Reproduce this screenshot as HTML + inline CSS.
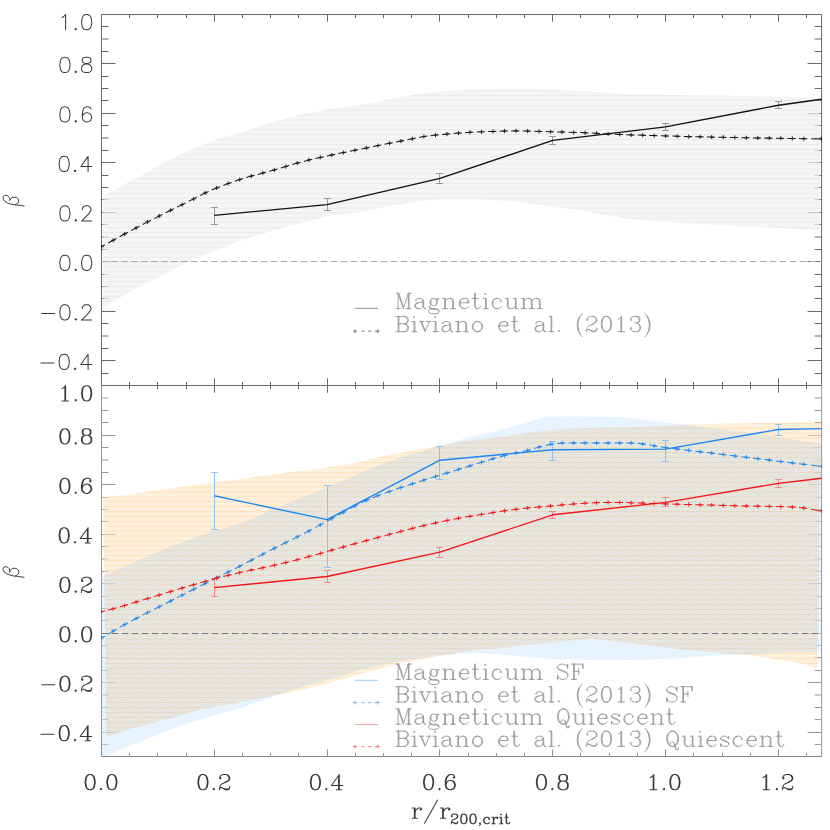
<!DOCTYPE html>
<html><head><meta charset="utf-8"><title>beta profile</title>
<style>html,body{margin:0;padding:0;background:#fff;font-family:"Liberation Sans",sans-serif}svg{display:block}</style></head>
<body>
<svg width="830" height="830" viewBox="0 0 830 830">
<defs>
<pattern id="pg" patternUnits="userSpaceOnUse" x="0" y="0" width="8" height="49" shape-rendering="crispEdges"><rect y="0" width="8" height="1" fill="rgb(241,241,241)"/><rect y="1" width="8" height="1" fill="rgb(239,239,239)"/><rect y="2" width="8" height="1" fill="rgb(229,229,229)"/><rect y="3" width="8" height="1" fill="rgb(241,241,241)"/><rect y="4" width="8" height="1" fill="rgb(241,241,241)"/><rect y="5" width="8" height="1" fill="rgb(241,241,241)"/><rect y="6" width="8" height="1" fill="rgb(238,238,238)"/><rect y="7" width="8" height="1" fill="rgb(231,231,231)"/><rect y="8" width="8" height="1" fill="rgb(241,241,241)"/><rect y="9" width="8" height="1" fill="rgb(241,241,241)"/><rect y="10" width="8" height="1" fill="rgb(241,241,241)"/><rect y="11" width="8" height="1" fill="rgb(236,236,236)"/><rect y="12" width="8" height="1" fill="rgb(232,232,232)"/><rect y="13" width="8" height="1" fill="rgb(241,241,241)"/><rect y="14" width="8" height="1" fill="rgb(241,241,241)"/><rect y="15" width="8" height="1" fill="rgb(241,241,241)"/><rect y="16" width="8" height="1" fill="rgb(234,234,234)"/><rect y="17" width="8" height="1" fill="rgb(234,234,234)"/><rect y="18" width="8" height="1" fill="rgb(241,241,241)"/><rect y="19" width="8" height="1" fill="rgb(241,241,241)"/><rect y="20" width="8" height="1" fill="rgb(241,241,241)"/><rect y="21" width="8" height="1" fill="rgb(233,233,233)"/><rect y="22" width="8" height="1" fill="rgb(236,236,236)"/><rect y="23" width="8" height="1" fill="rgb(241,241,241)"/><rect y="24" width="8" height="1" fill="rgb(241,241,241)"/><rect y="25" width="8" height="1" fill="rgb(241,241,241)"/><rect y="26" width="8" height="1" fill="rgb(231,231,231)"/><rect y="27" width="8" height="1" fill="rgb(238,238,238)"/><rect y="28" width="8" height="1" fill="rgb(241,241,241)"/><rect y="29" width="8" height="1" fill="rgb(241,241,241)"/><rect y="30" width="8" height="1" fill="rgb(241,241,241)"/><rect y="31" width="8" height="1" fill="rgb(229,229,229)"/><rect y="32" width="8" height="1" fill="rgb(239,239,239)"/><rect y="33" width="8" height="1" fill="rgb(241,241,241)"/><rect y="34" width="8" height="1" fill="rgb(241,241,241)"/><rect y="35" width="8" height="1" fill="rgb(241,241,241)"/><rect y="36" width="8" height="1" fill="rgb(227,227,227)"/><rect y="37" width="8" height="1" fill="rgb(241,241,241)"/><rect y="38" width="8" height="1" fill="rgb(241,241,241)"/><rect y="39" width="8" height="1" fill="rgb(241,241,241)"/><rect y="40" width="8" height="1" fill="rgb(241,241,241)"/><rect y="41" width="8" height="1" fill="rgb(227,227,227)"/><rect y="42" width="8" height="1" fill="rgb(241,241,241)"/><rect y="43" width="8" height="1" fill="rgb(241,241,241)"/><rect y="44" width="8" height="1" fill="rgb(241,241,241)"/><rect y="45" width="8" height="1" fill="rgb(241,241,241)"/><rect y="46" width="8" height="1" fill="rgb(227,227,227)"/><rect y="47" width="8" height="1" fill="rgb(241,241,241)"/><rect y="48" width="8" height="1" fill="rgb(241,241,241)"/></pattern>
<pattern id="po" patternUnits="userSpaceOnUse" x="0" y="0" width="8" height="49" shape-rendering="crispEdges"><rect y="0" width="8" height="1" fill="rgb(255,148,10)" fill-opacity="0.140"/><rect y="1" width="8" height="1" fill="rgb(255,148,10)" fill-opacity="0.224"/><rect y="2" width="8" height="1" fill="rgb(255,148,10)" fill-opacity="0.196"/><rect y="3" width="8" height="1" fill="rgb(255,148,10)" fill-opacity="0.140"/><rect y="4" width="8" height="1" fill="rgb(255,148,10)" fill-opacity="0.140"/><rect y="5" width="8" height="1" fill="rgb(255,148,10)" fill-opacity="0.140"/><rect y="6" width="8" height="1" fill="rgb(255,148,10)" fill-opacity="0.241"/><rect y="7" width="8" height="1" fill="rgb(255,148,10)" fill-opacity="0.179"/><rect y="8" width="8" height="1" fill="rgb(255,148,10)" fill-opacity="0.140"/><rect y="9" width="8" height="1" fill="rgb(255,148,10)" fill-opacity="0.140"/><rect y="10" width="8" height="1" fill="rgb(255,148,10)" fill-opacity="0.140"/><rect y="11" width="8" height="1" fill="rgb(255,148,10)" fill-opacity="0.258"/><rect y="12" width="8" height="1" fill="rgb(255,148,10)" fill-opacity="0.162"/><rect y="13" width="8" height="1" fill="rgb(255,148,10)" fill-opacity="0.140"/><rect y="14" width="8" height="1" fill="rgb(255,148,10)" fill-opacity="0.140"/><rect y="15" width="8" height="1" fill="rgb(255,148,10)" fill-opacity="0.140"/><rect y="16" width="8" height="1" fill="rgb(255,148,10)" fill-opacity="0.275"/><rect y="17" width="8" height="1" fill="rgb(255,148,10)" fill-opacity="0.145"/><rect y="18" width="8" height="1" fill="rgb(255,148,10)" fill-opacity="0.140"/><rect y="19" width="8" height="1" fill="rgb(255,148,10)" fill-opacity="0.140"/><rect y="20" width="8" height="1" fill="rgb(255,148,10)" fill-opacity="0.140"/><rect y="21" width="8" height="1" fill="rgb(255,148,10)" fill-opacity="0.280"/><rect y="22" width="8" height="1" fill="rgb(255,148,10)" fill-opacity="0.140"/><rect y="23" width="8" height="1" fill="rgb(255,148,10)" fill-opacity="0.140"/><rect y="24" width="8" height="1" fill="rgb(255,148,10)" fill-opacity="0.140"/><rect y="25" width="8" height="1" fill="rgb(255,148,10)" fill-opacity="0.140"/><rect y="26" width="8" height="1" fill="rgb(255,148,10)" fill-opacity="0.280"/><rect y="27" width="8" height="1" fill="rgb(255,148,10)" fill-opacity="0.140"/><rect y="28" width="8" height="1" fill="rgb(255,148,10)" fill-opacity="0.140"/><rect y="29" width="8" height="1" fill="rgb(255,148,10)" fill-opacity="0.140"/><rect y="30" width="8" height="1" fill="rgb(255,148,10)" fill-opacity="0.156"/><rect y="31" width="8" height="1" fill="rgb(255,148,10)" fill-opacity="0.264"/><rect y="32" width="8" height="1" fill="rgb(255,148,10)" fill-opacity="0.140"/><rect y="33" width="8" height="1" fill="rgb(255,148,10)" fill-opacity="0.140"/><rect y="34" width="8" height="1" fill="rgb(255,148,10)" fill-opacity="0.140"/><rect y="35" width="8" height="1" fill="rgb(255,148,10)" fill-opacity="0.173"/><rect y="36" width="8" height="1" fill="rgb(255,148,10)" fill-opacity="0.247"/><rect y="37" width="8" height="1" fill="rgb(255,148,10)" fill-opacity="0.140"/><rect y="38" width="8" height="1" fill="rgb(255,148,10)" fill-opacity="0.140"/><rect y="39" width="8" height="1" fill="rgb(255,148,10)" fill-opacity="0.140"/><rect y="40" width="8" height="1" fill="rgb(255,148,10)" fill-opacity="0.190"/><rect y="41" width="8" height="1" fill="rgb(255,148,10)" fill-opacity="0.230"/><rect y="42" width="8" height="1" fill="rgb(255,148,10)" fill-opacity="0.140"/><rect y="43" width="8" height="1" fill="rgb(255,148,10)" fill-opacity="0.140"/><rect y="44" width="8" height="1" fill="rgb(255,148,10)" fill-opacity="0.140"/><rect y="45" width="8" height="1" fill="rgb(255,148,10)" fill-opacity="0.207"/><rect y="46" width="8" height="1" fill="rgb(255,148,10)" fill-opacity="0.213"/><rect y="47" width="8" height="1" fill="rgb(255,148,10)" fill-opacity="0.140"/><rect y="48" width="8" height="1" fill="rgb(255,148,10)" fill-opacity="0.140"/></pattern>
<clipPath id="ct"><rect x="102" y="15" width="719" height="370"/></clipPath>
<clipPath id="cb"><rect x="102" y="386" width="719.5" height="371.5"/></clipPath>
</defs>
<rect width="830" height="830" fill="#fff"/>
<path d="M101.5 26.5h7M821.6 26.5h-7M101.5 39h7M821.6 39h-7M101.5 51.5h7M821.6 51.5h-7M101.5 63.5h14M821.6 63.5h-14M101.5 76.5h7M821.6 76.5h-7M101.5 88.5h7M821.6 88.5h-7M101.5 100.5h7M821.6 100.5h-7M101.5 113.5h14M821.6 113.5h-14M101.5 125.5h7M821.6 125.5h-7M101.5 138h7M821.6 138h-7M101.5 150.5h7M821.6 150.5h-7M101.5 162.5h14M821.6 162.5h-14M101.5 175.5h7M821.6 175.5h-7M101.5 187.5h7M821.6 187.5h-7M101.5 199.5h7M821.6 199.5h-7M101.5 212.5h14M821.6 212.5h-14M101.5 224.5h7M821.6 224.5h-7M101.5 237h7M821.6 237h-7M101.5 249.5h7M821.6 249.5h-7M101.5 261.5h14M821.6 261.5h-14M101.5 274.5h7M821.6 274.5h-7M101.5 286.5h7M821.6 286.5h-7M101.5 298.5h7M821.6 298.5h-7M101.5 311.5h14M821.6 311.5h-14M101.5 323.5h7M821.6 323.5h-7M101.5 336h7M821.6 336h-7M101.5 348.5h7M821.6 348.5h-7M101.5 360.5h14M821.6 360.5h-14M101.5 373.5h7M821.6 373.5h-7" stroke="#686868" stroke-width="1" fill="none"/>
<path d="M101.5 398h7M821.6 398h-7M101.5 410.5h7M821.6 410.5h-7M101.5 422.5h7M821.6 422.5h-7M101.5 435.5h14M821.6 435.5h-14M101.5 447.5h7M821.6 447.5h-7M101.5 460h7M821.6 460h-7M101.5 472.5h7M821.6 472.5h-7M101.5 484.5h14M821.6 484.5h-14M101.5 497.5h7M821.6 497.5h-7M101.5 509.5h7M821.6 509.5h-7M101.5 521.5h7M821.6 521.5h-7M101.5 534.5h14M821.6 534.5h-14M101.5 546.5h7M821.6 546.5h-7M101.5 559h7M821.6 559h-7M101.5 571.5h7M821.6 571.5h-7M101.5 583.5h14M821.6 583.5h-14M101.5 596.5h7M821.6 596.5h-7M101.5 608.5h7M821.6 608.5h-7M101.5 620.5h7M821.6 620.5h-7M101.5 633.5h14M821.6 633.5h-14M101.5 645.5h7M821.6 645.5h-7M101.5 657.5h7M821.6 657.5h-7M101.5 670.5h7M821.6 670.5h-7M101.5 682.5h14M821.6 682.5h-14M101.5 695h7M821.6 695h-7M101.5 707.5h7M821.6 707.5h-7M101.5 719.5h7M821.6 719.5h-7M101.5 732.5h14M821.6 732.5h-14M101.5 744.5h7M821.6 744.5h-7" stroke="#999" stroke-width="1" fill="none"/>
<polygon points="103,196.1 103.4,196.1 107.4,193.9 111.4,191.8 115.4,189.6 119.4,187.4 123.4,185.2 127.4,183 131.4,180.8 135.4,178.7 139.4,176.4 143.4,174.2 147.4,172 151.4,169.7 155.4,167.5 159.4,165.3 163.4,163.1 167.4,161 171.4,159 175.4,156.9 179.4,154.9 183.4,153 187.4,151.2 191.4,149.5 195.5,147.8 199.5,146.2 203.5,144.6 207.5,143 211.5,141.4 215.5,140 219.5,138.6 223.5,137.4 227.5,136.4 231.5,135.3 235.5,134.2 239.5,133.1 243.5,131.8 247.5,130.4 251.5,129 255.5,127.6 259.5,126.2 263.5,125 267.5,123.8 271.5,122.6 275.5,121.4 279.5,120.2 283.5,119.1 287.5,118.1 291.5,117 295.5,116.1 299.5,115.1 303.5,114.2 307.5,113.4 311.5,112.5 315.5,111.7 319.5,111 323.5,110.2 327.5,109.5 331.5,108.8 335.5,108.2 339.5,107.7 343.5,107.2 347.5,106.7 351.5,106.1 355.5,105.6 359.5,105 363.5,104.3 367.5,103.5 371.5,102.7 375.6,101.9 379.6,101 383.6,100.2 387.6,99.3 391.6,98.6 395.6,97.9 399.6,97.2 403.6,96.5 407.6,95.9 411.6,95.2 415.6,94.6 419.6,94.1 423.6,93.5 427.6,93.1 431.6,92.7 435.6,92.3 439.6,91.9 443.6,91.5 447.6,91.2 451.6,90.9 455.6,90.6 459.6,90.4 463.6,90.2 467.6,90 471.6,89.8 475.6,89.7 479.6,89.5 483.6,89.4 487.6,89.3 491.6,89.2 495.6,89 499.6,88.9 503.6,88.8 507.6,88.7 511.6,88.6 515.6,88.6 519.6,88.6 523.6,88.7 527.6,88.9 531.6,89 535.6,89.2 539.6,89.4 543.6,89.5 547.6,89.7 551.7,89.8 555.7,90 559.7,90.2 563.7,90.4 567.7,90.6 571.7,90.8 575.7,91 579.7,91.2 583.7,91.4 587.7,91.6 591.7,91.8 595.7,92.1 599.7,92.3 603.7,92.5 607.7,92.8 611.7,93.1 615.7,93.4 619.7,93.7 623.7,94 627.7,94.2 631.7,94.3 635.7,94.4 639.7,94.5 643.7,94.6 647.7,94.7 651.7,94.7 655.7,94.8 659.7,94.8 663.7,94.9 667.7,94.9 671.7,95 675.7,95 679.7,95.1 683.7,95.1 687.7,95.2 691.7,95.2 695.7,95.3 699.7,95.3 703.7,95.4 707.7,95.4 711.7,95.5 715.7,95.5 719.7,95.6 723.7,95.6 727.7,95.7 731.8,95.8 735.8,95.8 739.8,95.9 743.8,96 747.8,96 751.8,96.1 755.8,96.2 759.8,96.3 763.8,96.4 767.8,96.5 771.8,96.6 775.8,96.8 779.8,96.9 783.8,97 787.8,97.1 791.8,97.2 795.8,97.3 799.8,97.5 803.8,97.6 807.8,97.7 811.8,97.8 815.8,98 819.8,98.1 819.9,230.2 815.9,230 811.9,229.8 807.9,229.6 803.9,229.4 799.9,229.1 795.9,228.9 791.9,228.7 787.9,228.5 783.9,228.3 779.9,228.1 775.9,227.9 771.9,227.7 767.9,227.5 763.9,227.3 759.9,227.1 755.9,226.9 751.9,226.7 747.8,226.5 743.8,226.4 739.8,226.2 735.8,226 731.8,225.8 727.8,225.6 723.8,225.3 719.8,225.1 715.8,224.9 711.8,224.6 707.8,224.4 703.8,224.1 699.8,223.9 695.8,223.6 691.8,223.3 687.8,223.1 683.8,222.8 679.8,222.5 675.8,222.3 671.8,222 667.8,221.7 663.8,221.5 659.8,221.2 655.8,221 651.8,220.8 647.8,220.5 643.8,220.3 639.8,220 635.8,219.6 631.8,219.3 627.8,218.8 623.8,218.3 619.8,217.6 615.8,216.8 611.8,216.1 607.8,215.4 603.7,214.7 599.7,214 595.7,213.2 591.7,212.5 587.7,211.8 583.7,211.1 579.7,210.4 575.7,209.7 571.7,209.1 567.7,208.5 563.7,207.9 559.7,207.3 555.7,206.7 551.7,206.2 547.7,205.6 543.7,205.1 539.7,204.5 535.7,204 531.7,203.5 527.7,203 523.7,202.6 519.7,202.2 515.7,201.8 511.7,201.5 507.7,201.2 503.7,200.9 499.7,200.6 495.7,200.3 491.7,200 487.7,199.7 483.7,199.4 479.7,199.2 475.7,199.2 471.7,199.1 467.7,199 463.7,199 459.6,198.9 455.6,198.9 451.6,198.9 447.6,199 443.6,199.1 439.6,199.4 435.6,199.7 431.6,200 427.6,200.3 423.6,200.7 419.6,201.1 415.6,201.7 411.6,202.3 407.6,202.9 403.6,203.6 399.6,204.3 395.6,205 391.6,205.7 387.6,206.4 383.6,207.3 379.6,208.1 375.6,209 371.6,209.9 367.6,210.7 363.6,211.5 359.6,212.2 355.6,212.7 351.6,213.3 347.6,213.7 343.6,214.2 339.6,214.7 335.6,215.2 331.6,215.8 327.6,216.6 323.6,217.4 319.6,218.3 315.5,219.3 311.5,220.3 307.5,221.4 303.5,222.4 299.5,223.5 295.5,224.5 291.5,225.5 287.5,226.6 283.5,227.6 279.5,228.7 275.5,229.8 271.5,230.9 267.5,232.1 263.5,233.3 259.5,234.5 255.5,235.8 251.5,237.1 247.5,238.5 243.5,239.9 239.5,241.3 235.5,242.8 231.5,244.3 227.5,245.8 223.5,247.4 219.5,249 215.5,250.6 211.5,252.2 207.5,253.7 203.5,255.4 199.5,257 195.5,258.7 191.5,260.5 187.5,262.3 183.5,264.2 179.5,266.2 175.5,268.2 171.4,270.3 167.4,272.3 163.4,274.4 159.4,276.4 155.4,278.5 151.4,280.6 147.4,282.7 143.4,284.8 139.4,286.9 135.4,289.1 131.4,291.2 127.4,293.4 123.4,295.6 119.4,297.8 115.4,300.1 111.4,302.3 107.4,304.6 103.4,306.9 103,306.9" fill="url(#pg)" fill-opacity="0.72" clip-path="url(#ct)"/>
<defs><polygon id="op" points="103.2,497.3 103.4,497.3 107.4,496.8 111.4,496.4 115.4,495.9 119.4,495.4 123.4,494.9 127.4,494.4 131.4,493.9 135.4,493.4 139.4,492.8 143.4,492.3 147.4,491.7 151.4,491.2 155.4,490.6 159.4,490 163.4,489.5 167.4,488.9 171.4,488.3 175.5,487.8 179.5,487.2 183.5,486.7 187.5,486.1 191.5,485.5 195.5,485 199.5,484.4 203.5,483.9 207.5,483.4 211.5,482.8 215.5,482.3 219.5,481.8 223.5,481.3 227.5,480.8 231.5,480.3 235.5,479.7 239.5,479.2 243.5,478.6 247.5,478 251.5,477.4 255.5,476.8 259.5,476.2 263.5,475.6 267.5,475 271.5,474.4 275.5,473.8 279.5,473.3 283.5,472.8 287.5,472.3 291.5,471.8 295.5,471.3 299.5,470.9 303.5,470.4 307.5,469.9 311.5,469.5 315.5,469 319.6,468.5 323.6,467.9 327.6,467.4 331.6,466.8 335.6,466.2 339.6,465.6 343.6,464.8 347.6,464.1 351.6,463.3 355.6,462.5 359.6,461.7 363.6,460.8 367.6,459.9 371.6,459 375.6,458.1 379.6,457.1 383.6,456.2 387.6,455.3 391.6,454.4 395.6,453.6 399.6,452.9 403.6,452.2 407.6,451.5 411.6,450.8 415.6,450.1 419.6,449.4 423.6,448.8 427.6,448.1 431.6,447.4 435.6,446.7 439.6,446 443.6,445.2 447.6,444.4 451.6,443.6 455.6,442.8 459.6,442 463.7,441.4 467.7,440.9 471.7,440.4 475.7,439.9 479.7,439.5 483.7,439 487.7,438.6 491.7,438.1 495.7,437.7 499.7,437.1 503.7,436.6 507.7,436 511.7,435.3 515.7,434.7 519.7,434.1 523.7,433.5 527.7,433 531.7,432.4 535.7,431.9 539.7,431.4 543.7,430.9 547.7,430.5 551.7,430.1 555.7,429.7 559.7,429.4 563.7,429.2 567.7,428.9 571.7,428.7 575.7,428.5 579.7,428.3 583.7,428.1 587.7,428 591.7,427.9 595.7,427.8 599.7,427.7 603.7,427.7 607.8,427.6 611.8,427.6 615.8,427.5 619.8,427.5 623.8,427.4 627.8,427.4 631.8,427.3 635.8,427.1 639.8,426.9 643.8,426.7 647.8,426.5 651.8,426.2 655.8,425.9 659.8,425.7 663.8,425.5 667.8,425.3 671.8,425.1 675.8,424.9 679.8,424.7 683.8,424.6 687.8,424.4 691.8,424.3 695.8,424.2 699.8,424.1 703.8,424 707.8,423.9 711.8,423.9 715.8,423.8 719.8,423.7 723.8,423.7 727.8,423.6 731.8,423.5 735.8,423.4 739.8,423.4 743.8,423.3 747.8,423.2 751.9,423.2 755.9,423.1 759.9,423.1 763.9,423 767.9,423 771.9,422.9 775.9,422.8 779.9,422.8 783.9,422.8 787.9,422.7 791.9,422.7 795.9,422.6 799.9,422.6 803.9,422.5 807.9,422.5 811.9,422.5 815.9,422.4 819.9,422.4 821,422.3 817.6,668.3 817.4,668.3 813.4,667 809.4,665.9 805.4,664.7 801.3,663.7 797.3,662.8 793.3,662.1 789.3,661.3 785.3,660.7 781.3,660.1 777.2,659.5 773.2,658.9 769.2,658.3 765.2,657.7 761.2,657.2 757.2,656.6 753.2,656 749.1,655.5 745.1,655 741.1,654.6 737.1,654.2 733.1,653.9 729.1,653.7 725,653.4 721,653.1 717,652.7 713,652.3 709,651.9 705,651.5 701,651.1 696.9,650.7 692.9,650.3 688.9,649.9 684.9,649.5 680.9,649.2 676.9,648.8 672.9,648.3 668.8,647.9 664.8,647.4 660.8,646.9 656.8,646.4 652.8,645.9 648.8,645.4 644.7,644.9 640.7,644.5 636.7,644 632.7,643.5 628.7,643 624.7,642.5 620.7,642 616.6,641.5 612.6,641 608.6,640.6 604.6,640.1 600.6,639.5 596.6,639.2 592.5,639.1 588.5,639.3 584.5,639.5 580.5,639.7 576.5,640.1 572.5,640.5 568.5,641 564.4,641.4 560.4,641.9 556.4,642.3 552.4,642.7 548.4,643 544.4,643.3 540.3,643.7 536.3,644 532.3,644.4 528.3,644.7 524.3,645.1 520.3,645.6 516.3,646.2 512.2,646.8 508.2,647.3 504.2,647.9 500.2,648.3 496.2,648.6 492.2,648.8 488.1,649 484.1,649.2 480.1,649.5 476.1,649.9 472.1,650.4 468.1,651.1 464.1,651.8 460,652.5 456,653.2 452,654 448,654.7 444,655.4 440,656.1 436,656.8 431.9,657.4 427.9,658.1 423.9,658.9 419.9,659.6 415.9,660.3 411.9,661.1 407.8,661.9 403.8,662.7 399.8,663.5 395.8,664.4 391.8,665.4 387.8,666.4 383.8,667.4 379.7,668.5 375.7,669.7 371.7,670.8 367.7,672 363.7,673.2 359.7,674.3 355.6,675.4 351.6,676.6 347.6,677.7 343.6,678.9 339.6,680 335.6,681.1 331.6,682.2 327.5,683.3 323.5,684.3 319.5,685.4 315.5,686.4 311.5,687.4 307.5,688.4 303.4,689.3 299.4,690.3 295.4,691.2 291.4,692 287.4,692.9 283.4,693.7 279.4,694.5 275.3,695.3 271.3,696 267.3,696.8 263.3,697.6 259.3,698.4 255.3,699.1 251.2,699.9 247.2,700.7 243.2,701.5 239.2,702.3 235.2,703 231.2,703.8 227.2,704.5 223.1,705.3 219.1,706 215.1,706.8 211.1,707.6 207.1,708.4 203.1,709.3 199.1,710.2 195,711.2 191,712.3 187,713.4 183,714.6 179,715.7 175,716.9 170.9,718 166.9,719.2 162.9,720.2 158.9,721.3 154.9,722.4 150.9,723.4 146.9,724.5 142.8,725.6 138.8,726.7 134.8,727.9 130.8,729.1 126.8,730.3 122.8,731.5 118.7,732.8 114.7,734.1 110.7,735.4 106.7,736.7 106.3,736.7"/><polygon id="bp" points="102,575.9 103.4,575.9 107.4,574.1 111.4,572.3 115.4,570.5 119.4,568.7 123.4,566.9 127.4,565.1 131.4,563.4 135.4,561.7 139.4,559.9 143.4,558.2 147.4,556.5 151.4,554.7 155.4,553.1 159.4,551.4 163.4,549.7 167.4,548.1 171.4,546.5 175.5,545 179.5,543.4 183.5,541.9 187.5,540.3 191.5,538.9 195.5,537.4 199.5,536 203.5,534.6 207.5,533.3 211.5,532 215.5,530.8 219.5,529.5 223.5,528.4 227.5,527.2 231.5,526 235.5,524.8 239.5,523.5 243.5,522 247.5,520.4 251.5,518.7 255.5,516.9 259.5,515.2 263.5,513.5 267.5,511.8 271.5,510.1 275.5,508.4 279.5,506.7 283.5,505 287.5,503.3 291.5,501.6 295.5,499.9 299.5,498.3 303.5,496.7 307.5,495.2 311.5,493.6 315.5,492 319.6,490.4 323.6,488.8 327.6,487.2 331.6,485.5 335.6,483.8 339.6,482.1 343.6,480.3 347.6,478.6 351.6,476.8 355.6,475 359.6,473.3 363.6,471.6 367.6,470 371.6,468.3 375.6,466.7 379.6,465.1 383.6,463.6 387.6,462.1 391.6,460.6 395.6,459.3 399.6,458 403.6,456.7 407.6,455.5 411.6,454.3 415.6,453.2 419.6,452 423.6,450.9 427.6,449.7 431.6,448.4 435.6,447.2 439.6,446 443.6,444.8 447.6,443.6 451.6,442.4 455.6,441.2 459.6,440 463.7,438.9 467.7,437.8 471.7,436.7 475.7,435.7 479.7,434.7 483.7,433.8 487.7,432.9 491.7,432 495.7,431 499.7,430.1 503.7,429 507.7,427.9 511.7,426.8 515.7,425.6 519.7,424.5 523.7,423.4 527.7,422.3 531.7,421 535.7,419.8 539.7,418.6 543.7,417.6 547.7,416.9 551.7,416.6 555.7,416.6 559.7,416.6 563.7,416.6 567.7,416.6 571.7,416.6 575.7,416.6 579.7,416.6 583.7,416.6 587.7,416.7 591.7,416.7 595.7,416.8 599.7,416.9 603.7,416.9 607.8,417 611.8,417.1 615.8,417.1 619.8,417.2 623.8,417.3 627.8,417.5 631.8,417.7 635.8,418.3 639.8,419 643.8,419.7 647.8,420.2 651.8,420.8 655.8,421.2 659.8,421.7 663.8,422.2 667.8,422.7 671.8,423.1 675.8,423.5 679.8,424 683.8,424.4 687.8,424.8 691.8,425.3 695.8,425.8 699.8,426.3 703.8,426.9 707.8,427.4 711.8,427.9 715.8,428.5 719.8,429 723.8,429.6 727.8,430.1 731.8,430.6 735.8,431.2 739.8,431.8 743.8,432.3 747.8,432.9 751.9,433.4 755.9,434 759.9,434.6 763.9,435.1 767.9,435.7 771.9,436.3 775.9,436.9 779.9,437.5 783.9,438.1 787.9,438.7 791.9,439.3 795.9,439.9 799.9,440.5 803.9,441.1 807.9,441.7 811.9,442.3 815.9,443 819.9,443.6 821,443.6 821,651.8 821,651.8 817,651.9 813,652 808.9,652.1 804.9,652.2 800.9,652.3 796.9,652.4 792.9,652.5 788.9,652.6 784.8,652.7 780.8,652.8 776.8,652.9 772.8,653.1 768.8,653.2 764.8,653.3 760.7,653.5 756.7,653.7 752.7,653.8 748.7,654 744.7,654.2 740.7,654.3 736.6,654.5 732.6,654.7 728.6,654.8 724.6,655 720.6,655.2 716.6,655.5 712.5,655.7 708.5,656 704.5,656.3 700.5,656.6 696.5,656.9 692.5,657.2 688.4,657.5 684.4,657.8 680.4,658.1 676.4,658.4 672.4,658.6 668.4,658.8 664.3,659 660.3,659.1 656.3,659.3 652.3,659.4 648.3,659.6 644.3,659.7 640.2,659.8 636.2,659.9 632.2,659.9 628.2,659.9 624.2,659.9 620.2,659.9 616.1,659.9 612.1,659.9 608.1,659.9 604.1,659.9 600.1,659.9 596.1,659.9 592,659.9 588,659.9 584,659.9 580,659.8 576,659.8 572,659.7 567.9,659.6 563.9,659.6 559.9,659.5 555.9,659.4 551.9,659.2 547.9,658.9 543.8,658.5 539.8,658.1 535.8,657.7 531.8,657.3 527.8,656.9 523.8,656.5 519.7,656.1 515.7,655.7 511.7,655.3 507.7,654.9 503.7,654.5 499.7,654.3 495.6,654.1 491.6,653.9 487.6,653.8 483.6,653.7 479.6,653.6 475.6,653.6 471.5,653.6 467.5,653.6 463.5,653.6 459.5,653.6 455.5,653.9 451.5,654.4 447.4,654.8 443.4,655.2 439.4,655.6 435.4,656.1 431.4,656.5 427.4,657 423.3,657.5 419.3,658.1 415.3,658.7 411.3,659.3 407.3,660 403.3,660.7 399.2,661.4 395.2,662.1 391.2,662.9 387.2,663.7 383.2,664.5 379.2,665.4 375.1,666.3 371.1,667.2 367.1,668.2 363.1,669.2 359.1,670.2 355.1,671.4 351,672.6 347,673.9 343,675.2 339,676.5 335,677.8 331,679 326.9,680.1 322.9,681.2 318.9,682.3 314.9,683.4 310.9,684.4 306.9,685.5 302.8,686.6 298.8,687.8 294.8,689 290.8,690.3 286.8,691.6 282.8,693 278.7,694.4 274.7,695.8 270.7,697.3 266.7,698.9 262.7,700.4 258.7,701.8 254.6,703.2 250.6,704.5 246.6,705.9 242.6,707.2 238.6,708.4 234.6,709.7 230.5,710.8 226.5,712 222.5,713.1 218.5,714.2 214.5,715.4 210.5,716.5 206.4,717.7 202.4,718.9 198.4,720.2 194.4,721.5 190.4,722.8 186.4,724.1 182.3,725.5 178.3,726.9 174.3,728.3 170.3,729.8 166.3,731.3 162.3,732.8 158.2,734.3 154.2,735.9 150.2,737.5 146.2,739.1 142.2,740.8 138.2,742.4 134.1,744.1 130.1,745.8 126.1,747.6 122.1,749.3 118.1,751.1 114.1,752.9 110,754.7 106,756.5 102,758.2 102,758.2"/><clipPath id="cblue"><use href="#bp"/></clipPath></defs>
<g clip-path="url(#cb)">
<use href="#op" fill="#fff" fill-opacity="0.45"/><use href="#bp" fill="#fff" fill-opacity="0.45"/>
<use href="#op" fill="url(#po)"/>
<use href="#bp" fill="#fff" fill-opacity="0.05"/>
<path clip-path="url(#cblue)" d="M102.7 410l-348 348M105.05 410l-348 348M107.4 410l-348 348M109.75 410l-348 348M112.1 410l-348 348M114.45 410l-348 348M116.79 410l-348 348M119.14 410l-348 348M121.49 410l-348 348M123.84 410l-348 348M126.19 410l-348 348M128.54 410l-348 348M130.89 410l-348 348M133.24 410l-348 348M135.59 410l-348 348M137.94 410l-348 348M140.28 410l-348 348M142.63 410l-348 348M144.98 410l-348 348M147.33 410l-348 348M149.68 410l-348 348M152.03 410l-348 348M154.38 410l-348 348M156.73 410l-348 348M159.08 410l-348 348M161.43 410l-348 348M163.77 410l-348 348M166.12 410l-348 348M168.47 410l-348 348M170.82 410l-348 348M173.17 410l-348 348M175.52 410l-348 348M177.87 410l-348 348M180.22 410l-348 348M182.57 410l-348 348M184.92 410l-348 348M187.27 410l-348 348M189.61 410l-348 348M191.96 410l-348 348M194.31 410l-348 348M196.66 410l-348 348M199.01 410l-348 348M201.36 410l-348 348M203.71 410l-348 348M206.06 410l-348 348M208.41 410l-348 348M210.76 410l-348 348M213.1 410l-348 348M215.45 410l-348 348M217.8 410l-348 348M220.15 410l-348 348M222.5 410l-348 348M224.85 410l-348 348M227.2 410l-348 348M229.55 410l-348 348M231.9 410l-348 348M234.25 410l-348 348M236.59 410l-348 348M238.94 410l-348 348M241.29 410l-348 348M243.64 410l-348 348M245.99 410l-348 348M248.34 410l-348 348M250.69 410l-348 348M253.04 410l-348 348M255.39 410l-348 348M257.74 410l-348 348M260.09 410l-348 348M262.43 410l-348 348M264.78 410l-348 348M267.13 410l-348 348M269.48 410l-348 348M271.83 410l-348 348M274.18 410l-348 348M276.53 410l-348 348M278.88 410l-348 348M281.23 410l-348 348M283.58 410l-348 348M285.92 410l-348 348M288.27 410l-348 348M290.62 410l-348 348M292.97 410l-348 348M295.32 410l-348 348M297.67 410l-348 348M300.02 410l-348 348M302.37 410l-348 348M304.72 410l-348 348M307.07 410l-348 348M309.41 410l-348 348M311.76 410l-348 348M314.11 410l-348 348M316.46 410l-348 348M318.81 410l-348 348M321.16 410l-348 348M323.51 410l-348 348M325.86 410l-348 348M328.21 410l-348 348M330.56 410l-348 348M332.91 410l-348 348M335.25 410l-348 348M337.6 410l-348 348M339.95 410l-348 348M342.3 410l-348 348M344.65 410l-348 348M347 410l-348 348M349.35 410l-348 348M351.7 410l-348 348M354.05 410l-348 348M356.4 410l-348 348M358.74 410l-348 348M361.09 410l-348 348M363.44 410l-348 348M365.79 410l-348 348M368.14 410l-348 348M370.49 410l-348 348M372.84 410l-348 348M375.19 410l-348 348M377.54 410l-348 348M379.89 410l-348 348M382.23 410l-348 348M384.58 410l-348 348M386.93 410l-348 348M389.28 410l-348 348M391.63 410l-348 348M393.98 410l-348 348M396.33 410l-348 348M398.68 410l-348 348M401.03 410l-348 348M403.38 410l-348 348M405.73 410l-348 348M408.07 410l-348 348M410.42 410l-348 348M412.77 410l-348 348M415.12 410l-348 348M417.47 410l-348 348M419.82 410l-348 348M422.17 410l-348 348M424.52 410l-348 348M426.87 410l-348 348M429.22 410l-348 348M431.56 410l-348 348M433.91 410l-348 348M436.26 410l-348 348M438.61 410l-348 348M440.96 410l-348 348M443.31 410l-348 348M445.66 410l-348 348M448.01 410l-348 348M450.36 410l-348 348M452.71 410l-348 348M455.05 410l-348 348M457.4 410l-348 348M459.75 410l-348 348M462.1 410l-348 348M464.45 410l-348 348M466.8 410l-348 348M469.15 410l-348 348M471.5 410l-348 348M473.85 410l-348 348M476.2 410l-348 348M478.55 410l-348 348M480.89 410l-348 348M483.24 410l-348 348M485.59 410l-348 348M487.94 410l-348 348M490.29 410l-348 348M492.64 410l-348 348M494.99 410l-348 348M497.34 410l-348 348M499.69 410l-348 348M502.04 410l-348 348M504.38 410l-348 348M506.73 410l-348 348M509.08 410l-348 348M511.43 410l-348 348M513.78 410l-348 348M516.13 410l-348 348M518.48 410l-348 348M520.83 410l-348 348M523.18 410l-348 348M525.53 410l-348 348M527.87 410l-348 348M530.22 410l-348 348M532.57 410l-348 348M534.92 410l-348 348M537.27 410l-348 348M539.62 410l-348 348M541.97 410l-348 348M544.32 410l-348 348M546.67 410l-348 348M549.02 410l-348 348M551.37 410l-348 348M553.71 410l-348 348M556.06 410l-348 348M558.41 410l-348 348M560.76 410l-348 348M563.11 410l-348 348M565.46 410l-348 348M567.81 410l-348 348M570.16 410l-348 348M572.51 410l-348 348M574.86 410l-348 348M577.2 410l-348 348M579.55 410l-348 348M581.9 410l-348 348M584.25 410l-348 348M586.6 410l-348 348M588.95 410l-348 348M591.3 410l-348 348M593.65 410l-348 348M596 410l-348 348M598.35 410l-348 348M600.69 410l-348 348M603.04 410l-348 348M605.39 410l-348 348M607.74 410l-348 348M610.09 410l-348 348M612.44 410l-348 348M614.79 410l-348 348M617.14 410l-348 348M619.49 410l-348 348M621.84 410l-348 348M624.19 410l-348 348M626.53 410l-348 348M628.88 410l-348 348M631.23 410l-348 348M633.58 410l-348 348M635.93 410l-348 348M638.28 410l-348 348M640.63 410l-348 348M642.98 410l-348 348M645.33 410l-348 348M647.68 410l-348 348M650.02 410l-348 348M652.37 410l-348 348M654.72 410l-348 348M657.07 410l-348 348M659.42 410l-348 348M661.77 410l-348 348M664.12 410l-348 348M666.47 410l-348 348M668.82 410l-348 348M671.17 410l-348 348M673.51 410l-348 348M675.86 410l-348 348M678.21 410l-348 348M680.56 410l-348 348M682.91 410l-348 348M685.26 410l-348 348M687.61 410l-348 348M689.96 410l-348 348M692.31 410l-348 348M694.66 410l-348 348M697.01 410l-348 348M699.35 410l-348 348M701.7 410l-348 348M704.05 410l-348 348M706.4 410l-348 348M708.75 410l-348 348M711.1 410l-348 348M713.45 410l-348 348M715.8 410l-348 348M718.15 410l-348 348M720.5 410l-348 348M722.84 410l-348 348M725.19 410l-348 348M727.54 410l-348 348M729.89 410l-348 348M732.24 410l-348 348M734.59 410l-348 348M736.94 410l-348 348M739.29 410l-348 348M741.64 410l-348 348M743.99 410l-348 348M746.33 410l-348 348M748.68 410l-348 348M751.03 410l-348 348M753.38 410l-348 348M755.73 410l-348 348M758.08 410l-348 348M760.43 410l-348 348M762.78 410l-348 348M765.13 410l-348 348M767.48 410l-348 348M769.83 410l-348 348M772.17 410l-348 348M774.52 410l-348 348M776.87 410l-348 348M779.22 410l-348 348M781.57 410l-348 348M783.92 410l-348 348M786.27 410l-348 348M788.62 410l-348 348M790.97 410l-348 348M793.32 410l-348 348M795.66 410l-348 348M798.01 410l-348 348M800.36 410l-348 348M802.71 410l-348 348M805.06 410l-348 348M807.41 410l-348 348M809.76 410l-348 348M812.11 410l-348 348M814.46 410l-348 348M816.81 410l-348 348M819.15 410l-348 348M821.5 410l-348 348M823.85 410l-348 348M826.2 410l-348 348M828.55 410l-348 348M830.9 410l-348 348M833.25 410l-348 348M835.6 410l-348 348M837.95 410l-348 348M840.3 410l-348 348M842.65 410l-348 348M844.99 410l-348 348M847.34 410l-348 348M849.69 410l-348 348M852.04 410l-348 348M854.39 410l-348 348M856.74 410l-348 348M859.09 410l-348 348M861.44 410l-348 348M863.79 410l-348 348M866.14 410l-348 348M868.48 410l-348 348M870.83 410l-348 348M873.18 410l-348 348M875.53 410l-348 348M877.88 410l-348 348M880.23 410l-348 348M882.58 410l-348 348M884.93 410l-348 348M887.28 410l-348 348M889.63 410l-348 348M891.97 410l-348 348M894.32 410l-348 348M896.67 410l-348 348M899.02 410l-348 348M901.37 410l-348 348M903.72 410l-348 348M906.07 410l-348 348M908.42 410l-348 348M910.77 410l-348 348M913.12 410l-348 348M915.47 410l-348 348M917.81 410l-348 348M920.16 410l-348 348M922.51 410l-348 348M924.86 410l-348 348M927.21 410l-348 348M929.56 410l-348 348M931.91 410l-348 348M934.26 410l-348 348M936.61 410l-348 348M938.96 410l-348 348M941.3 410l-348 348M943.65 410l-348 348M946 410l-348 348M948.35 410l-348 348M950.7 410l-348 348M953.05 410l-348 348M955.4 410l-348 348M957.75 410l-348 348M960.1 410l-348 348M962.45 410l-348 348M964.79 410l-348 348M967.14 410l-348 348M969.49 410l-348 348M971.84 410l-348 348M974.19 410l-348 348M976.54 410l-348 348M978.89 410l-348 348M981.24 410l-348 348M983.59 410l-348 348M985.94 410l-348 348M988.29 410l-348 348M990.63 410l-348 348M992.98 410l-348 348M995.33 410l-348 348M997.68 410l-348 348M1000.03 410l-348 348M1002.38 410l-348 348M1004.73 410l-348 348M1007.08 410l-348 348M1009.43 410l-348 348M1011.78 410l-348 348M1014.12 410l-348 348M1016.47 410l-348 348M1018.82 410l-348 348M1021.17 410l-348 348M1023.52 410l-348 348M1025.87 410l-348 348M1028.22 410l-348 348M1030.57 410l-348 348M1032.92 410l-348 348M1035.27 410l-348 348M1037.62 410l-348 348M1039.96 410l-348 348M1042.31 410l-348 348M1044.66 410l-348 348M1047.01 410l-348 348M1049.36 410l-348 348M1051.71 410l-348 348M1054.06 410l-348 348M1056.41 410l-348 348M1058.76 410l-348 348M1061.11 410l-348 348M1063.45 410l-348 348M1065.8 410l-348 348M1068.15 410l-348 348M1070.5 410l-348 348M1072.85 410l-348 348M1075.2 410l-348 348M1077.55 410l-348 348M1079.9 410l-348 348M1082.25 410l-348 348M1084.6 410l-348 348M1086.94 410l-348 348M1089.29 410l-348 348M1091.64 410l-348 348M1093.99 410l-348 348M1096.34 410l-348 348M1098.69 410l-348 348M1101.04 410l-348 348M1103.39 410l-348 348M1105.74 410l-348 348M1108.09 410l-348 348M1110.44 410l-348 348M1112.78 410l-348 348M1115.13 410l-348 348M1117.48 410l-348 348M1119.83 410l-348 348M1122.18 410l-348 348M1124.53 410l-348 348M1126.88 410l-348 348M1129.23 410l-348 348M1131.58 410l-348 348M1133.93 410l-348 348M1136.27 410l-348 348M1138.62 410l-348 348M1140.97 410l-348 348M1143.32 410l-348 348M1145.67 410l-348 348M1148.02 410l-348 348M1150.37 410l-348 348M1152.72 410l-348 348M1155.07 410l-348 348M1157.42 410l-348 348M1159.76 410l-348 348M1162.11 410l-348 348M1164.46 410l-348 348M1166.81 410l-348 348M1169.16 410l-348 348" stroke="#1e96ff" stroke-width="0.255" fill="none"/>
</g>
<path d="M101.5 385.5V14.5H821.6V385.5" stroke="#686868" fill="none"/>
<path d="M101.5 385.5V756.5M821.6 385.5V756.5" stroke="#999" fill="none"/>
<path d="M101.5 385.5H821.6" stroke="#686868" fill="none"/>
<path d="M101.5 756.5H821.6" stroke="#858585" fill="none"/>
<path d="M129.5 14.5v3.6M157.5 14.5v3.6M186.5 14.5v3.6M214.5 14.5v7.2M242.5 14.5v3.6M270.5 14.5v3.6M298.5 14.5v3.6M327.5 14.5v7.2M355.5 14.5v3.6M383.5 14.5v3.6M411.5 14.5v3.6M439.5 14.5v7.2M468.5 14.5v3.6M496.5 14.5v3.6M524.5 14.5v3.6M552.5 14.5v7.2M580.5 14.5v3.6M609.5 14.5v3.6M637.5 14.5v3.6M665.5 14.5v7.2M693.5 14.5v3.6M722.5 14.5v3.6M750.5 14.5v3.6M778.5 14.5v7.2M806.5 14.5v3.6" stroke="#686868" fill="none"/>
<path d="M129.5 385.5v-3.6M129.5 385.5v3.6M157.5 385.5v-3.6M157.5 385.5v3.6M186.5 385.5v-3.6M186.5 385.5v3.6M214.5 385.5v-7.2M214.5 385.5v7.2M242.5 385.5v-3.6M242.5 385.5v3.6M270.5 385.5v-3.6M270.5 385.5v3.6M298.5 385.5v-3.6M298.5 385.5v3.6M327.5 385.5v-7.2M327.5 385.5v7.2M355.5 385.5v-3.6M355.5 385.5v3.6M383.5 385.5v-3.6M383.5 385.5v3.6M411.5 385.5v-3.6M411.5 385.5v3.6M439.5 385.5v-7.2M439.5 385.5v7.2M468.5 385.5v-3.6M468.5 385.5v3.6M496.5 385.5v-3.6M496.5 385.5v3.6M524.5 385.5v-3.6M524.5 385.5v3.6M552.5 385.5v-7.2M552.5 385.5v7.2M580.5 385.5v-3.6M580.5 385.5v3.6M609.5 385.5v-3.6M609.5 385.5v3.6M637.5 385.5v-3.6M637.5 385.5v3.6M665.5 385.5v-7.2M665.5 385.5v7.2M693.5 385.5v-3.6M693.5 385.5v3.6M722.5 385.5v-3.6M722.5 385.5v3.6M750.5 385.5v-3.6M750.5 385.5v3.6M778.5 385.5v-7.2M778.5 385.5v7.2M806.5 385.5v-3.6M806.5 385.5v3.6" stroke="#686868" fill="none"/>
<path d="M129.5 756.5v-3.6M157.5 756.5v-3.6M186.5 756.5v-3.6M214.5 756.5v-7.2M242.5 756.5v-3.6M270.5 756.5v-3.6M298.5 756.5v-3.6M327.5 756.5v-7.2M355.5 756.5v-3.6M383.5 756.5v-3.6M411.5 756.5v-3.6M439.5 756.5v-7.2M468.5 756.5v-3.6M496.5 756.5v-3.6M524.5 756.5v-3.6M552.5 756.5v-7.2M580.5 756.5v-3.6M609.5 756.5v-3.6M637.5 756.5v-3.6M665.5 756.5v-7.2M693.5 756.5v-3.6M722.5 756.5v-3.6M750.5 756.5v-3.6M778.5 756.5v-7.2M806.5 756.5v-3.6" stroke="#949494" fill="none"/>
<path d="M101.2 261.5H821.6" stroke="#aaa" stroke-dasharray="6.6 3.38" fill="none"/>
<path d="M101.9 633.5H821.6" stroke="#7a7a7a" stroke-dasharray="6.4 3.6" fill="none"/>
<clipPath id="ct2"><rect x="101" y="15" width="721" height="370"/></clipPath><clipPath id="cb2"><rect x="101" y="386" width="721" height="370"/></clipPath>
<path d="M214.5 207.5V224.5M211 207.5h7M211 224.5h7M327.5 198.5V210.5M324 198.5h7M324 210.5h7M439.5 173.5V183.5M436 173.5h7M436 183.5h7M552.5 136.5V144.5M549 136.5h7M549 144.5h7M665.5 123.5V130.5M662 123.5h7M662 130.5h7M778.5 101.5V108.5M775 101.5h7M775 108.5h7" stroke="#999" stroke-width="1" fill="none"/>
<g clip-path="url(#ct2)"><path d="M101.6 246.7 L104.9 244.8M108.2 243 L113.1 240.3 L116.5 238.5M119.7 236.7 L124.6 234 L128 232.2M131.2 230.5 L136.1 227.9 L139.5 226.2M142.7 224.5 L147.6 221.9 L151 220.2M154.2 218.6 L159.2 216 L162.5 214.4M165.7 212.7 L170.7 210.3 L174 208.6M177.2 207 L182.2 204.6 L185.5 202.9M188.7 201.3 L193.7 198.9 L197 197.1M200.3 195.5 L205.2 192.9 L208.5 191.5M211.8 190.1 L216.7 187.9 L220.1 186.7M223.3 185.4 L228.2 183.5 L231.6 182.4M234.8 181.3 L239.7 179.6 L243.1 178.6M246.3 177.6 L251.3 176.1 L254.6 175.2M257.8 174.4 L262.8 173 L266.1 172.1M269.3 171.3 L274.3 169.9 L277.6 168.9M280.8 168 L285.8 166.5 L289.1 165.6M292.4 164.6 L297.3 163.1 L300.6 162.2M303.9 161.4 L308.8 160 L312.2 159.3M315.4 158.5 L320.3 157.4 L323.7 156.7M326.9 156 L331.8 155 L335.2 154.3M338.4 153.6 L343.4 152.6 L346.7 151.9M349.9 151.3 L354.9 150.3 L358.2 149.6M361.4 148.9 L366.4 147.9 L369.7 147.3M372.9 146.6 L377.9 145.6 L381.2 145M384.5 144.3 L389.4 143.3 L392.7 142.7M396 142 L400.9 141.1 L404.3 140.4M407.5 139.8 L412.4 138.8 L415.8 138.1M419 137.5 L423.9 136.5 L427.3 136.1M430.5 135.7 L435.5 135.1 L438.8 134.8M442 134.5 L447 134.1 L450.3 133.8M453.5 133.5 L458.5 133.1 L461.8 132.9M465 132.7 L470 132.3 L473.3 132.2M476.6 132 L481.5 131.8 L484.8 131.7M488.1 131.6 L493 131.4 L496.4 131.3M499.6 131.2 L504.5 131 L507.9 130.9M511.1 130.9 L516 130.8 L519.4 130.9M522.6 130.9 L527.6 131 L530.9 131.2M534.1 131.3 L539.1 131.4 L542.4 131.5M545.6 131.6 L550.6 131.7 L553.9 131.8M557.1 131.9 L562.1 132 L565.4 132.1M568.7 132.2 L573.6 132.4 L576.9 132.5M580.2 132.6 L585.1 132.8 L588.5 133M591.7 133.1 L596.6 133.3 L600 133.5M603.2 133.7 L608.1 133.9 L611.5 134.1M614.7 134.2 L619.7 134.4 L623 134.6M626.2 134.7 L631.2 134.9 L634.5 135M637.7 135.1 L642.7 135.2 L646 135.4M649.2 135.5 L654.2 135.6 L657.5 135.7M660.8 135.8 L665.7 135.9 L669 136M672.3 136.1 L677.2 136.3 L680.6 136.3M683.8 136.4 L688.7 136.6 L692.1 136.6M695.3 136.7 L700.2 136.8 L703.6 136.9M706.8 137 L711.7 137.1 L715.1 137.2M718.3 137.2 L723.3 137.3 L726.6 137.4M729.8 137.4 L734.8 137.5 L738.1 137.6M741.3 137.7 L746.3 137.8 L749.6 137.8M752.8 137.9 L757.8 138 L761.1 138M764.4 138.1 L769.3 138.1 L772.6 138.2M775.9 138.2 L780.8 138.3 L784.2 138.4M787.4 138.4 L792.3 138.5 L795.7 138.5M798.9 138.6 L803.8 138.7 L807.2 138.7M811.1 138.8 L821.6 138.9" stroke="#1a1a1a" stroke-width="1.05" fill="none"/><path d="M99.5 246.7h4.2M101.6 244.6v4.2M111 240.3h4.2M113.1 238.2v4.2M122.5 234h4.2M124.6 231.9v4.2M134 227.9h4.2M136.1 225.8v4.2M145.5 221.9h4.2M147.6 219.8v4.2M157.1 216h4.2M159.2 213.9v4.2M168.6 210.3h4.2M170.7 208.2v4.2M180.1 204.6h4.2M182.2 202.5v4.2M191.6 198.9h4.2M193.7 196.8v4.2M203.1 192.9h4.2M205.2 190.8v4.2M214.6 187.9h4.2M216.7 185.8v4.2M226.1 183.5h4.2M228.2 181.4v4.2M237.6 179.6h4.2M239.7 177.5v4.2M249.2 176.1h4.2M251.3 174v4.2M260.7 173h4.2M262.8 170.9v4.2M272.2 169.9h4.2M274.3 167.8v4.2M283.7 166.5h4.2M285.8 164.4v4.2M295.2 163.1h4.2M297.3 161v4.2M306.7 160h4.2M308.8 157.9v4.2M318.2 157.4h4.2M320.3 155.3v4.2M329.7 155h4.2M331.8 152.9v4.2M341.3 152.6h4.2M343.4 150.5v4.2M352.8 150.3h4.2M354.9 148.2v4.2M364.3 147.9h4.2M366.4 145.8v4.2M375.8 145.6h4.2M377.9 143.5v4.2M387.3 143.3h4.2M389.4 141.2v4.2M398.8 141.1h4.2M400.9 139v4.2M410.3 138.8h4.2M412.4 136.7v4.2M421.8 136.5h4.2M423.9 134.4v4.2M433.4 135.1h4.2M435.5 133v4.2M444.9 134.1h4.2M447 132v4.2M456.4 133.1h4.2M458.5 131v4.2M467.9 132.3h4.2M470 130.2v4.2M479.4 131.8h4.2M481.5 129.7v4.2M490.9 131.4h4.2M493 129.3v4.2M502.4 131h4.2M504.5 128.9v4.2M513.9 130.8h4.2M516 128.7v4.2M525.5 131h4.2M527.6 128.9v4.2M537 131.4h4.2M539.1 129.3v4.2M548.5 131.7h4.2M550.6 129.6v4.2M560 132h4.2M562.1 129.9v4.2M571.5 132.4h4.2M573.6 130.3v4.2M583 132.8h4.2M585.1 130.7v4.2M594.5 133.3h4.2M596.6 131.2v4.2M606 133.9h4.2M608.1 131.8v4.2M617.6 134.4h4.2M619.7 132.3v4.2M629.1 134.9h4.2M631.2 132.8v4.2M640.6 135.2h4.2M642.7 133.1v4.2M652.1 135.6h4.2M654.2 133.5v4.2M663.6 135.9h4.2M665.7 133.8v4.2M675.1 136.3h4.2M677.2 134.2v4.2M686.6 136.6h4.2M688.7 134.5v4.2M698.1 136.8h4.2M700.2 134.7v4.2M709.6 137.1h4.2M711.7 135v4.2M721.2 137.3h4.2M723.3 135.2v4.2M732.7 137.5h4.2M734.8 135.4v4.2M744.2 137.8h4.2M746.3 135.7v4.2M755.7 138h4.2M757.8 135.9v4.2M767.2 138.1h4.2M769.3 136v4.2M778.7 138.3h4.2M780.8 136.2v4.2M790.2 138.5h4.2M792.3 136.4v4.2M801.7 138.7h4.2M803.8 136.6v4.2M819.5 138.9h4.2M821.6 136.8v4.2" stroke="#1a1a1a" stroke-width="0.9" fill="none"/></g>
<path d="M214.3 215.4 L327.1 204.6 L440 178.4 L552.8 140.4 L665.6 126.9 L778.4 105.2 L821.6 99.2" stroke="#111" stroke-width="1.4" fill="none" stroke-linejoin="round"/>
<path d="M214.5 472.5V529.5M211 472.5h7M211 529.5h7M327.5 485.5V567.5M324 485.5h7M324 567.5h7M439.5 446.5V479.5M436 446.5h7M436 479.5h7M552.5 441.5V460.5M549 441.5h7M549 460.5h7M665.5 440.5V461.5M662 440.5h7M662 461.5h7M778.5 424.5V435.5M775 424.5h7M775 435.5h7" stroke="#8fc3f3" stroke-width="1" fill="none"/>
<path d="M214.5 578.5V596.5M211 578.5h7M211 596.5h7M327.5 570.5V582.5M324 570.5h7M324 582.5h7M439.5 547.5V557.5M436 547.5h7M436 557.5h7M552.5 511.5V518.5M549 511.5h7M549 518.5h7M665.5 497.5V506.5M662 497.5h7M662 506.5h7M778.5 479.5V487.5M775 479.5h7M775 487.5h7" stroke="#f28a8a" stroke-width="1" fill="none"/>
<g clip-path="url(#cb2)"><path d="M101.6 638 L104.9 636M108.2 634.1 L113.1 631.1 L116.5 629.2M119.7 627.4 L124.6 624.6 L128 622.8M131.2 621.1 L136.1 618.5 L139.5 616.8M142.7 615.1 L147.6 612.6 L151 610.9M154.2 609.3 L159.2 606.8 L162.5 605.1M165.7 603.5 L170.7 601 L174 599.3M177.2 597.7 L182.2 595.1 L185.5 593.5M188.7 591.8 L193.7 589.3 L197 587.6M200.3 586 L205.2 583.5 L208.5 581.8M211.8 580.2 L216.7 577.7 L220.1 576M223.3 574.4 L228.2 572 L231.6 570.3M234.8 568.7 L239.7 566.2 L243.1 564.5M246.3 562.8 L251.3 560.3 L254.6 558.5M257.8 556.9 L262.8 554.3 L266.1 552.5M269.3 550.9 L274.3 548.3 L277.6 546.7M280.8 545 L285.8 542.6 L289.1 540.9M292.4 539.3 L297.3 536.9 L300.6 535.2M303.9 533.6 L308.8 531.1 L312.2 529.3M315.4 527.6 L320.3 524.9 L323.7 523.1M326.9 521.3 L331.8 518.6 L335.2 516.8M338.4 515 L343.4 512.3 L346.7 510.4M349.9 508.6 L354.9 505.9 L358.2 504.3M361.4 502.7 L366.4 500.3 L369.7 499M372.9 497.7 L377.9 495.7 L381.2 494.5M384.5 493.3 L389.4 491.6 L392.7 490.4M396 489.3 L400.9 487.6 L404.3 486.5M407.5 485.4 L412.4 483.8 L415.8 482.7M419 481.7 L423.9 480.1 L427.3 479M430.5 478 L435.5 476.5 L438.8 475.4M442 474.4 L447 472.9 L450.3 471.9M453.5 470.9 L458.5 469.4 L461.8 468.3M465 467.4 L470 465.9 L473.3 464.8M476.6 463.8 L481.5 462.3 L484.8 461.2M488.1 460.2 L493 458.7 L496.4 457.8M499.6 456.9 L504.5 455.5 L507.9 454.7M511.1 454 L516 452.9 L519.4 452.2M522.6 451.5 L527.6 450.4 L530.9 449.4M534.1 448.4 L539.1 447 L542.4 446.2M545.6 445.4 L550.6 444.3 L553.9 443.9M557.1 443.6 L562.1 443 L565.4 443M568.7 443 L573.6 443 L576.9 443M580.2 443 L585.1 443 L588.5 443M591.7 443 L596.6 443 L600 443M603.2 443 L608.1 443 L611.5 443M614.7 443 L619.7 443 L623 443M626.2 443 L631.2 443 L634.5 443.3M637.7 443.5 L642.7 443.9 L646 444.4M649.2 444.9 L654.2 445.8 L657.5 446.3M660.8 446.8 L665.7 447.6 L669 448M672.3 448.4 L677.2 449 L680.6 449.4M683.8 449.8 L688.7 450.4 L692.1 450.8M695.3 451.2 L700.2 451.8 L703.6 452.2M706.8 452.6 L711.7 453.1 L715.1 453.5M718.3 453.9 L723.3 454.5 L726.6 454.9M729.8 455.3 L734.8 455.9 L738.1 456.3M741.3 456.7 L746.3 457.3 L749.6 457.7M752.8 458.1 L757.8 458.7 L761.1 459.1M764.4 459.5 L769.3 460.1 L772.6 460.5M775.9 460.9 L780.8 461.5 L784.2 461.9M787.4 462.3 L792.3 462.9 L795.7 463.3M798.9 463.7 L803.8 464.3 L807.2 464.7M811.1 465.1 L821.6 466.4" stroke="#1e86f0" stroke-width="1.05" fill="none"/><path d="M99.5 638h4.2M101.6 635.9v4.2M111 631.1h4.2M113.1 629v4.2M122.5 624.6h4.2M124.6 622.5v4.2M134 618.5h4.2M136.1 616.4v4.2M145.5 612.6h4.2M147.6 610.5v4.2M157.1 606.8h4.2M159.2 604.7v4.2M168.6 601h4.2M170.7 598.9v4.2M180.1 595.1h4.2M182.2 593v4.2M191.6 589.3h4.2M193.7 587.2v4.2M203.1 583.5h4.2M205.2 581.4v4.2M214.6 577.7h4.2M216.7 575.6v4.2M226.1 572h4.2M228.2 569.9v4.2M237.6 566.2h4.2M239.7 564.1v4.2M249.2 560.3h4.2M251.3 558.2v4.2M260.7 554.3h4.2M262.8 552.2v4.2M272.2 548.3h4.2M274.3 546.2v4.2M283.7 542.6h4.2M285.8 540.5v4.2M295.2 536.9h4.2M297.3 534.8v4.2M306.7 531.1h4.2M308.8 529v4.2M318.2 524.9h4.2M320.3 522.8v4.2M329.7 518.6h4.2M331.8 516.5v4.2M341.3 512.3h4.2M343.4 510.2v4.2M352.8 505.9h4.2M354.9 503.8v4.2M364.3 500.3h4.2M366.4 498.2v4.2M375.8 495.7h4.2M377.9 493.6v4.2M387.3 491.6h4.2M389.4 489.5v4.2M398.8 487.6h4.2M400.9 485.5v4.2M410.3 483.8h4.2M412.4 481.7v4.2M421.8 480.1h4.2M423.9 478v4.2M433.4 476.5h4.2M435.5 474.4v4.2M444.9 472.9h4.2M447 470.8v4.2M456.4 469.4h4.2M458.5 467.3v4.2M467.9 465.9h4.2M470 463.8v4.2M479.4 462.3h4.2M481.5 460.2v4.2M490.9 458.7h4.2M493 456.6v4.2M502.4 455.5h4.2M504.5 453.4v4.2M513.9 452.9h4.2M516 450.8v4.2M525.5 450.4h4.2M527.6 448.3v4.2M537 447h4.2M539.1 444.9v4.2M548.5 444.3h4.2M550.6 442.2v4.2M560 443h4.2M562.1 440.9v4.2M571.5 443h4.2M573.6 440.9v4.2M583 443h4.2M585.1 440.9v4.2M594.5 443h4.2M596.6 440.9v4.2M606 443h4.2M608.1 440.9v4.2M617.6 443h4.2M619.7 440.9v4.2M629.1 443h4.2M631.2 440.9v4.2M640.6 443.9h4.2M642.7 441.8v4.2M652.1 445.8h4.2M654.2 443.7v4.2M663.6 447.6h4.2M665.7 445.5v4.2M675.1 449h4.2M677.2 446.9v4.2M686.6 450.4h4.2M688.7 448.3v4.2M698.1 451.8h4.2M700.2 449.7v4.2M709.6 453.1h4.2M711.7 451v4.2M721.2 454.5h4.2M723.3 452.4v4.2M732.7 455.9h4.2M734.8 453.8v4.2M744.2 457.3h4.2M746.3 455.2v4.2M755.7 458.7h4.2M757.8 456.6v4.2M767.2 460.1h4.2M769.3 458v4.2M778.7 461.5h4.2M780.8 459.4v4.2M790.2 462.9h4.2M792.3 460.8v4.2M801.7 464.3h4.2M803.8 462.2v4.2M819.5 466.4h4.2M821.6 464.3v4.2" stroke="#1e86f0" stroke-width="0.9" fill="none"/></g>
<g clip-path="url(#cb2)"><path d="M101.6 611.7 L104.9 610.8M108.2 610 L113.1 608.7 L116.5 607.8M119.7 606.9 L124.6 605.5 L128 604.5M131.2 603.6 L136.1 602.1 L139.5 601.1M142.7 600.1 L147.6 598.6 L151 597.5M154.2 596.5 L159.2 595 L162.5 594M165.7 593 L170.7 591.5 L174 590.5M177.2 589.5 L182.2 588.1 L185.5 587.1M188.7 586.1 L193.7 584.7 L197 583.7M200.3 582.8 L205.2 581.4 L208.5 580.5M211.8 579.6 L216.7 578.3 L220.1 577.4M223.3 576.6 L228.2 575.3 L231.6 574.5M234.8 573.8 L239.7 572.6 L243.1 571.8M246.3 571.2 L251.3 570.1 L254.6 569.4M257.8 568.8 L262.8 567.8 L266.1 567.1M269.3 566.4 L274.3 565.3 L277.6 564.5M280.8 563.8 L285.8 562.6 L289.1 561.7M292.4 560.9 L297.3 559.7 L300.6 558.8M303.9 558 L308.8 556.6 L312.2 555.7M315.4 554.8 L320.3 553.5 L323.7 552.5M326.9 551.6 L331.8 550.2 L335.2 549.2M338.4 548.3 L343.4 546.9 L346.7 546M349.9 545.1 L354.9 543.7 L358.2 542.8M361.4 541.9 L366.4 540.6 L369.7 539.7M372.9 538.8 L377.9 537.5 L381.2 536.6M384.5 535.7 L389.4 534.4 L392.7 533.5M396 532.7 L400.9 531.4 L404.3 530.5M407.5 529.7 L412.4 528.4 L415.8 527.6M419 526.8 L423.9 525.6 L427.3 524.8M430.5 524 L435.5 522.9 L438.8 522.1M442 521.4 L447 520.4 L450.3 519.8M453.5 519.2 L458.5 518.2 L461.8 517.7M465 517.1 L470 516.3 L473.3 515.7M476.6 515.2 L481.5 514.4 L484.8 513.9M488.1 513.4 L493 512.6 L496.4 512M499.6 511.5 L504.5 510.8 L507.9 510.3M511.1 509.9 L516 509.3 L519.4 508.9M522.6 508.6 L527.6 508 L530.9 507.7M534.1 507.4 L539.1 507 L542.4 506.7M545.6 506.4 L550.6 506 L553.9 505.7M557.1 505.4 L562.1 504.9 L565.4 504.6M568.7 504.4 L573.6 503.9 L576.9 503.7M580.2 503.5 L585.1 503.2 L588.5 503M591.7 502.9 L596.6 502.7 L600 502.6M603.2 502.5 L608.1 502.4 L611.5 502.4M614.7 502.5 L619.7 502.5 L623 502.6M626.2 502.6 L631.2 502.8 L634.5 502.9M637.7 503 L642.7 503.1 L646 503.3M649.2 503.4 L654.2 503.5 L657.5 503.6M660.8 503.7 L665.7 503.9 L669 504M672.3 504.1 L677.2 504.2 L680.6 504.3M683.8 504.4 L688.7 504.5 L692.1 504.6M695.3 504.7 L700.2 504.8 L703.6 504.9M706.8 505 L711.7 505.1 L715.1 505.2M718.3 505.3 L723.3 505.4 L726.6 505.5M729.8 505.6 L734.8 505.7 L738.1 505.8M741.3 505.9 L746.3 506 L749.6 506.1M752.8 506.1 L757.8 506.2 L761.1 506.3M764.4 506.3 L769.3 506.4 L772.6 506.5M775.9 506.5 L780.8 506.6 L784.2 506.7M787.4 506.8 L792.3 507 L795.7 507.3M798.9 507.6 L803.8 508.1 L807.2 508.6M811.1 509.2 L821.6 510.9" stroke="#f5151a" stroke-width="1.05" fill="none"/><path d="M99.5 611.7h4.2M101.6 609.6v4.2M111 608.7h4.2M113.1 606.6v4.2M122.5 605.5h4.2M124.6 603.4v4.2M134 602.1h4.2M136.1 600v4.2M145.5 598.6h4.2M147.6 596.5v4.2M157.1 595h4.2M159.2 592.9v4.2M168.6 591.5h4.2M170.7 589.4v4.2M180.1 588.1h4.2M182.2 586v4.2M191.6 584.7h4.2M193.7 582.6v4.2M203.1 581.4h4.2M205.2 579.3v4.2M214.6 578.3h4.2M216.7 576.2v4.2M226.1 575.3h4.2M228.2 573.2v4.2M237.6 572.6h4.2M239.7 570.5v4.2M249.2 570.1h4.2M251.3 568v4.2M260.7 567.8h4.2M262.8 565.7v4.2M272.2 565.3h4.2M274.3 563.2v4.2M283.7 562.6h4.2M285.8 560.5v4.2M295.2 559.7h4.2M297.3 557.6v4.2M306.7 556.6h4.2M308.8 554.5v4.2M318.2 553.5h4.2M320.3 551.4v4.2M329.7 550.2h4.2M331.8 548.1v4.2M341.3 546.9h4.2M343.4 544.8v4.2M352.8 543.7h4.2M354.9 541.6v4.2M364.3 540.6h4.2M366.4 538.5v4.2M375.8 537.5h4.2M377.9 535.4v4.2M387.3 534.4h4.2M389.4 532.3v4.2M398.8 531.4h4.2M400.9 529.3v4.2M410.3 528.4h4.2M412.4 526.3v4.2M421.8 525.6h4.2M423.9 523.5v4.2M433.4 522.9h4.2M435.5 520.8v4.2M444.9 520.4h4.2M447 518.3v4.2M456.4 518.2h4.2M458.5 516.1v4.2M467.9 516.3h4.2M470 514.2v4.2M479.4 514.4h4.2M481.5 512.3v4.2M490.9 512.6h4.2M493 510.5v4.2M502.4 510.8h4.2M504.5 508.7v4.2M513.9 509.3h4.2M516 507.2v4.2M525.5 508h4.2M527.6 505.9v4.2M537 507h4.2M539.1 504.9v4.2M548.5 506h4.2M550.6 503.9v4.2M560 504.9h4.2M562.1 502.8v4.2M571.5 503.9h4.2M573.6 501.8v4.2M583 503.2h4.2M585.1 501.1v4.2M594.5 502.7h4.2M596.6 500.6v4.2M606 502.4h4.2M608.1 500.3v4.2M617.6 502.5h4.2M619.7 500.4v4.2M629.1 502.8h4.2M631.2 500.7v4.2M640.6 503.1h4.2M642.7 501v4.2M652.1 503.5h4.2M654.2 501.4v4.2M663.6 503.9h4.2M665.7 501.8v4.2M675.1 504.2h4.2M677.2 502.1v4.2M686.6 504.5h4.2M688.7 502.4v4.2M698.1 504.8h4.2M700.2 502.7v4.2M709.6 505.1h4.2M711.7 503v4.2M721.2 505.4h4.2M723.3 503.3v4.2M732.7 505.7h4.2M734.8 503.6v4.2M744.2 506h4.2M746.3 503.9v4.2M755.7 506.2h4.2M757.8 504.1v4.2M767.2 506.4h4.2M769.3 504.3v4.2M778.7 506.6h4.2M780.8 504.5v4.2M790.2 507h4.2M792.3 504.9v4.2M801.7 508.1h4.2M803.8 506v4.2M819.5 510.9h4.2M821.6 508.8v4.2" stroke="#f5151a" stroke-width="0.9" fill="none"/></g>
<path d="M214.3 495.8 L327.1 519.6 L440 460.2 L552.8 449.7 L665.6 449.1 L778.4 429.5 L821.6 428.6" stroke="#1e86f0" stroke-width="1.4" fill="none" stroke-linejoin="round"/>
<path d="M214.3 587.6 L327.1 576.5 L440 552.1 L552.8 514.8 L665.6 502.4 L778.4 483.4 L821.6 478.3" stroke="#f5151a" stroke-width="1.4" fill="none" stroke-linejoin="round"/>
<path d="M398.14 293.31 L403.24 308.6 L408.33 293.31M398.14 293.31 L395.96 293.31M398.14 293.31 L398.14 308.6M398.14 293.31 L398.87 293.31 L403.24 306.42M408.33 293.31 L408.33 308.6M408.33 293.31 L409.06 293.31M395.96 308.6 L398.14 308.6M398.14 308.6 L400.32 308.6M406.15 308.6 L408.33 308.6M408.33 308.6 L409.06 308.6M409.06 293.31 L409.06 308.6M409.06 293.31 L411.24 293.31M409.06 308.6 L411.24 308.6M417.8 302.78 L422.16 302.05 L422.89 301.32M417.8 302.78 L415.61 303.5 L414.88 304.96 L414.88 306.42 L415.61 307.87 L417.8 308.6M417.8 302.78 L416.34 303.5 L415.61 304.96 L415.61 306.42 L416.34 307.87 L417.8 308.6M417.8 308.6 L419.98 308.6 L421.44 307.87 L422.89 306.42M422.89 299.86 L423.62 301.32 L423.62 306.42 L424.35 307.87 L425.08 308.6M422.89 299.86 L422.16 299.14 L420.71 298.41 L417.8 298.41 L416.34 299.14 L415.61 299.86 L415.61 300.59 L416.34 300.59 L416.34 299.86M422.89 299.86 L422.89 301.32M422.89 306.42 L423.62 307.87 L425.08 308.6M422.89 306.42 L422.89 301.32M425.08 308.6 L425.8 308.6M431.63 299.14 L430.17 301.32 L430.17 302.78M431.63 299.14 L433.08 298.41 L434.54 298.41 L436 299.14M431.63 299.14 L430.9 299.86M430.17 302.78 L431.63 304.96 L433.08 305.69 L434.54 305.69 L436 304.96M430.17 302.78 L430.9 304.23 L430.17 304.96 L429.44 306.42 L429.44 307.14M436 299.14 L437.45 301.32 L437.45 302.78 L436 304.96M436 299.14 L436.72 300.59 L436.72 303.5M436 299.14 L436.72 299.86 L437.45 299.14M436 304.96 L436.72 304.23M431.63 308.6 L429.44 309.33 L428.72 310.78 L428.72 311.51 L429.44 312.97 L431.63 313.7 L436 313.7 L438.18 312.97 L438.91 311.51 L438.91 310.78M429.44 307.14 L430.17 308.6 L432.36 309.33 L436 309.33 L438.18 310.06 L438.91 310.78M429.44 307.14 L430.17 307.87 L432.36 308.6 L436 308.6 L438.18 309.33 L438.91 310.78M437.45 299.14 L438.91 298.41 L438.91 299.14 L437.45 299.14M430.9 300.59 L430.9 303.5M450.56 298.41 L452.74 299.14 L453.47 300.59 L453.47 308.6M450.56 298.41 L452.01 299.14 L452.74 300.59 L452.74 308.6M450.56 298.41 L449.1 298.41 L446.92 299.14 L445.46 300.59M445.46 300.59 L445.46 298.41 L444.73 298.41M445.46 300.59 L445.46 308.6M442.55 298.41 L444.73 298.41M442.55 308.6 L444.73 308.6M444.73 298.41 L444.73 308.6M444.73 308.6 L445.46 308.6M445.46 308.6 L447.64 308.6M450.56 308.6 L452.74 308.6M452.74 308.6 L453.47 308.6M453.47 308.6 L455.65 308.6M467.3 299.14 L468.76 301.32 L468.76 302.78 L468.03 302.78M467.3 299.14 L465.84 298.41 L463.66 298.41M467.3 299.14 L468.03 300.59 L468.03 302.78M467.3 299.14 L468.03 299.86M460.02 302.78 L460.75 300.59 L462.2 299.14 L463.66 298.41M460.02 302.78 L460.02 304.23 L460.75 306.42 L462.2 307.87 L463.66 308.6M460.02 302.78 L468.03 302.78M463.66 298.41 L461.48 299.14 L460.02 300.59 L459.29 302.78 L459.29 304.23 L460.02 306.42 L461.48 307.87 L463.66 308.6M463.66 308.6 L465.12 308.6 L467.3 307.87 L468.76 306.42M476.76 308.6 L475.31 307.87 L474.58 305.69 L474.58 298.41M476.76 308.6 L476.04 307.87 L475.31 305.69 L475.31 298.41M476.76 308.6 L478.22 308.6 L479.68 307.87 L480.4 306.42M472.4 298.41 L474.58 298.41M474.58 298.41 L474.58 293.31M474.58 298.41 L475.31 298.41M475.31 298.41 L475.31 293.31M475.31 298.41 L478.22 298.41M483.32 298.41 L485.5 298.41M483.32 308.6 L485.5 308.6M485.5 298.41 L485.5 308.6M485.5 298.41 L486.23 298.41 L486.23 308.6M485.5 308.6 L486.23 308.6M486.23 308.6 L488.41 308.6M484.77 294.04 L485.5 293.31 L486.23 294.04 L485.5 294.77 L484.77 294.04M496.42 298.41 L494.24 299.14 L492.78 300.59 L492.05 302.78 L492.05 304.23 L492.78 306.42 L494.24 307.87 L496.42 308.6M496.42 298.41 L494.96 299.14 L493.51 300.59 L492.78 302.78 L492.78 304.23 L493.51 306.42 L494.96 307.87 L496.42 308.6M496.42 298.41 L498.6 298.41 L500.06 299.14 L501.52 300.59 L501.52 301.32 L500.79 302.05 L500.06 301.32 L500.79 300.59M496.42 308.6 L497.88 308.6 L500.06 307.87 L501.52 306.42M510.25 308.6 L508.07 307.87 L507.34 306.42 L507.34 298.41M510.25 308.6 L508.8 307.87 L508.07 306.42 L508.07 298.41 L507.34 298.41M510.25 308.6 L511.71 308.6 L513.89 307.87 L515.35 306.42M515.35 306.42 L515.35 298.41M515.35 306.42 L515.35 308.6 L516.08 308.6M505.16 298.41 L507.34 298.41M513.16 298.41 L515.35 298.41M515.35 298.41 L516.08 298.41 L516.08 308.6M516.08 308.6 L518.26 308.6M529.18 298.41 L531.36 299.14 L532.09 300.59M529.18 298.41 L530.64 299.14 L531.36 300.59 L531.36 308.6M529.18 298.41 L527.72 298.41 L525.54 299.14 L524.08 300.59M537.19 298.41 L539.37 299.14 L540.1 300.59 L540.1 308.6M537.19 298.41 L538.64 299.14 L539.37 300.59 L539.37 308.6M537.19 298.41 L535.73 298.41 L533.55 299.14 L532.09 300.59M532.09 300.59 L532.09 308.6M524.08 300.59 L524.08 298.41 L523.36 298.41M524.08 300.59 L524.08 308.6M521.17 298.41 L523.36 298.41M521.17 308.6 L523.36 308.6M523.36 298.41 L523.36 308.6M523.36 308.6 L524.08 308.6M524.08 308.6 L526.27 308.6M529.18 308.6 L531.36 308.6M531.36 308.6 L532.09 308.6M532.09 308.6 L534.28 308.6M537.19 308.6 L539.37 308.6M539.37 308.6 L540.1 308.6M540.1 308.6 L542.28 308.6M404.69 316.41 L406.88 317.14 L407.6 317.87 L408.33 319.32 L408.33 320.78 L407.6 322.24 L406.88 322.96 L404.69 323.69M404.69 316.41 L406.15 317.14 L406.88 317.87 L407.6 319.32 L407.6 320.78 L406.88 322.24 L406.15 322.96 L404.69 323.69M404.69 316.41 L398.87 316.41M404.69 323.69 L406.88 324.42 L407.6 325.15 L408.33 326.6 L408.33 328.79 L407.6 330.24 L406.88 330.97 L404.69 331.7M404.69 323.69 L406.15 324.42 L406.88 325.15 L407.6 326.6 L407.6 328.79 L406.88 330.24 L406.15 330.97 L404.69 331.7M404.69 323.69 L398.87 323.69M404.69 331.7 L398.87 331.7M395.96 316.41 L398.14 316.41M395.96 331.7 L398.14 331.7M398.14 316.41 L398.14 331.7M398.14 316.41 L398.87 316.41M398.14 331.7 L398.87 331.7M398.87 316.41 L398.87 323.69M398.87 331.7 L398.87 323.69M411.97 321.51 L414.16 321.51M411.97 331.7 L414.16 331.7M414.16 321.51 L414.16 331.7M414.16 321.51 L414.88 321.51 L414.88 331.7M414.16 331.7 L414.88 331.7M414.88 331.7 L417.07 331.7M413.43 317.14 L414.16 316.41 L414.88 317.14 L414.16 317.87 L413.43 317.14M421.44 321.51 L425.08 330.24M421.44 321.51 L420.71 321.51M421.44 321.51 L423.62 321.51M420.71 321.51 L425.08 331.7 L429.44 321.51M420.71 321.51 L419.25 321.51M429.44 321.51 L426.53 321.51M429.44 321.51 L430.9 321.51M433.08 321.51 L435.27 321.51M433.08 331.7 L435.27 331.7M435.27 321.51 L435.27 331.7M435.27 321.51 L436 321.51 L436 331.7M435.27 331.7 L436 331.7M436 331.7 L438.18 331.7M434.54 317.14 L435.27 316.41 L436 317.14 L435.27 317.87 L434.54 317.14M444.73 325.88 L449.1 325.15 L449.83 324.42M444.73 325.88 L442.55 326.6 L441.82 328.06 L441.82 329.52 L442.55 330.97 L444.73 331.7M444.73 325.88 L443.28 326.6 L442.55 328.06 L442.55 329.52 L443.28 330.97 L444.73 331.7M444.73 331.7 L446.92 331.7 L448.37 330.97 L449.83 329.52M449.83 322.96 L450.56 324.42 L450.56 329.52 L451.28 330.97 L452.01 331.7M449.83 322.96 L449.1 322.24 L447.64 321.51 L444.73 321.51 L443.28 322.24 L442.55 322.96 L442.55 323.69 L443.28 323.69 L443.28 322.96M449.83 322.96 L449.83 324.42M449.83 329.52 L450.56 330.97 L452.01 331.7M449.83 329.52 L449.83 324.42M452.01 331.7 L452.74 331.7M463.66 321.51 L465.84 322.24 L466.57 323.69 L466.57 331.7M463.66 321.51 L465.12 322.24 L465.84 323.69 L465.84 331.7M463.66 321.51 L462.2 321.51 L460.02 322.24 L458.56 323.69M458.56 323.69 L458.56 321.51 L457.84 321.51M458.56 323.69 L458.56 331.7M455.65 321.51 L457.84 321.51M455.65 331.7 L457.84 331.7M457.84 321.51 L457.84 331.7M457.84 331.7 L458.56 331.7M458.56 331.7 L460.75 331.7M463.66 331.7 L465.84 331.7M465.84 331.7 L466.57 331.7M466.57 331.7 L468.76 331.7M476.76 321.51 L474.58 322.24 L473.12 323.69 L472.4 325.88 L472.4 327.33 L473.12 329.52 L474.58 330.97 L476.76 331.7M476.76 321.51 L475.31 322.24 L473.85 323.69 L473.12 325.88 L473.12 327.33 L473.85 329.52 L475.31 330.97 L476.76 331.7M476.76 321.51 L478.22 321.51M476.76 331.7 L478.22 331.7M478.22 321.51 L480.4 322.24 L481.86 323.69 L482.59 325.88 L482.59 327.33 L481.86 329.52 L480.4 330.97 L478.22 331.7M478.22 321.51 L479.68 322.24 L481.13 323.69 L481.86 325.88 L481.86 327.33 L481.13 329.52 L479.68 330.97 L478.22 331.7M506.61 322.24 L508.07 324.42 L508.07 325.88 L507.34 325.88M506.61 322.24 L505.16 321.51 L502.97 321.51M506.61 322.24 L507.34 323.69 L507.34 325.88M506.61 322.24 L507.34 322.96M499.33 325.88 L500.06 323.69 L501.52 322.24 L502.97 321.51M499.33 325.88 L499.33 327.33 L500.06 329.52 L501.52 330.97 L502.97 331.7M499.33 325.88 L507.34 325.88M502.97 321.51 L500.79 322.24 L499.33 323.69 L498.6 325.88 L498.6 327.33 L499.33 329.52 L500.79 330.97 L502.97 331.7M502.97 331.7 L504.43 331.7 L506.61 330.97 L508.07 329.52M516.08 331.7 L514.62 330.97 L513.89 328.79 L513.89 321.51M516.08 331.7 L515.35 330.97 L514.62 328.79 L514.62 321.51M516.08 331.7 L517.53 331.7 L518.99 330.97 L519.72 329.52M511.71 321.51 L513.89 321.51M513.89 321.51 L513.89 316.41M513.89 321.51 L514.62 321.51M514.62 321.51 L514.62 316.41M514.62 321.51 L517.53 321.51M537.92 325.88 L542.28 325.15 L543.01 324.42M537.92 325.88 L535.73 326.6 L535 328.06 L535 329.52 L535.73 330.97 L537.92 331.7M537.92 325.88 L536.46 326.6 L535.73 328.06 L535.73 329.52 L536.46 330.97 L537.92 331.7M537.92 331.7 L540.1 331.7 L541.56 330.97 L543.01 329.52M543.01 322.96 L543.74 324.42 L543.74 329.52 L544.47 330.97 L545.2 331.7M543.01 322.96 L542.28 322.24 L540.83 321.51 L537.92 321.51 L536.46 322.24 L535.73 322.96 L535.73 323.69 L536.46 323.69 L536.46 322.96M543.01 322.96 L543.01 324.42M543.01 329.52 L543.74 330.97 L545.2 331.7M543.01 329.52 L543.01 324.42M545.2 331.7 L545.92 331.7M548.84 316.41 L551.02 316.41M548.84 331.7 L551.02 331.7M551.02 316.41 L551.02 331.7M551.02 316.41 L551.75 316.41 L551.75 331.7M551.02 331.7 L551.75 331.7M551.75 331.7 L553.93 331.7M558.3 330.97 L559.03 330.24 L559.76 330.97 L559.03 331.7 L558.3 330.97M579.41 317.14 L577.96 323.69 L577.96 325.88 L578.68 330.24 L579.41 332.43 L580.14 333.88M582.32 313.5 L580.87 314.96 L577.96 320.05 L577.23 324.42 L577.23 325.88 L577.96 330.24 L578.68 331.7 L580.87 335.34 L582.32 336.8M588.88 329.52 L592.52 331.7 L595.43 331.7 L596.16 330.97 L596.88 329.52M588.88 329.52 L592.52 330.97 L594.7 330.97 L596.16 330.24 L596.88 329.52M588.88 329.52 L587.42 329.52 L586.69 330.24M591.79 324.42 L595.43 322.24 L596.16 320.78 L596.16 319.32 L595.43 317.87 L594.7 317.14 L593.24 316.41M593.24 316.41 L595.43 317.14 L596.16 317.87 L596.88 319.32 L596.88 320.78 L596.16 322.24 L593.97 323.69 L588.88 325.88 L587.42 327.33 L586.69 329.52 L586.69 330.24M593.24 316.41 L590.33 316.41 L588.15 317.14 L587.42 317.87 L586.69 319.32 L586.69 320.05 L587.42 320.78 L588.15 320.05 L587.42 319.32M596.88 329.52 L596.88 328.06M586.69 330.24 L586.69 331.7M605.62 316.41 L603.44 317.14 L601.98 319.32 L601.25 323.69 L601.25 324.42 L601.98 328.79 L603.44 330.97 L605.62 331.7M605.62 316.41 L604.16 317.14 L603.44 317.87 L602.71 319.32 L601.98 323.69 L601.98 324.42 L602.71 328.79 L603.44 330.24 L604.16 330.97 L605.62 331.7M605.62 316.41 L607.08 316.41M605.62 331.7 L607.08 331.7M607.08 316.41 L609.26 317.14 L610.72 319.32 L611.44 322.96 L611.44 325.15 L610.72 328.79 L609.26 330.97 L607.08 331.7M607.08 316.41 L608.53 317.14 L609.26 317.87 L609.99 319.32 L610.72 322.96 L610.72 325.15 L609.99 328.79 L609.26 330.24 L608.53 330.97 L607.08 331.7M618 319.32 L619.45 318.6 L620.91 317.14M620.91 317.14 L621.64 316.41 L621.64 331.7M620.91 317.14 L620.91 331.7M618 331.7 L620.91 331.7M620.91 331.7 L621.64 331.7M621.64 331.7 L624.55 331.7M636.92 316.41 L639.11 317.14 L639.84 318.6 L639.84 320.78 L639.11 322.24 L636.92 322.96M636.92 316.41 L638.38 317.14 L639.11 318.6 L639.11 320.78 L638.38 322.24 L636.92 322.96M636.92 316.41 L634.01 316.41 L631.83 317.14 L631.1 317.87 L630.37 319.32 L630.37 320.05 L631.1 320.78 L631.83 320.05 L631.1 319.32M636.92 322.96 L638.38 323.69 L639.11 324.42M636.92 322.96 L634.74 322.96M636.92 331.7 L639.11 330.97 L639.84 330.24 L640.56 328.79 L640.56 326.6 L639.84 325.15 L639.11 324.42M636.92 331.7 L638.38 330.97 L639.11 330.24 L639.84 328.79 L639.84 326.6 L639.11 324.42M636.92 331.7 L634.01 331.7 L631.83 330.97 L631.1 330.24 L630.37 328.79 L630.37 328.06 L631.1 327.33 L631.83 328.06 L631.1 328.79M647.84 317.14 L649.3 323.69 L649.3 326.6 L648.57 330.24 L647.84 332.43 L647.12 333.88M647.12 316.41 L647.84 317.87M644.93 313.5 L646.39 314.96 L649.3 320.05 L650.03 323.69 L650.03 326.6 L649.3 330.24 L648.57 331.7 L646.39 335.34 L644.93 336.8M398.14 664.11 L403.24 679.4 L408.33 664.11M398.14 664.11 L395.96 664.11M398.14 664.11 L398.14 679.4M398.14 664.11 L398.87 664.11 L403.24 677.22M408.33 664.11 L408.33 679.4M408.33 664.11 L409.06 664.11M395.96 679.4 L398.14 679.4M398.14 679.4 L400.32 679.4M406.15 679.4 L408.33 679.4M408.33 679.4 L409.06 679.4M409.06 664.11 L409.06 679.4M409.06 664.11 L411.24 664.11M409.06 679.4 L411.24 679.4M417.8 673.58 L422.16 672.85 L422.89 672.12M417.8 673.58 L415.61 674.3 L414.88 675.76 L414.88 677.22 L415.61 678.67 L417.8 679.4M417.8 673.58 L416.34 674.3 L415.61 675.76 L415.61 677.22 L416.34 678.67 L417.8 679.4M417.8 679.4 L419.98 679.4 L421.44 678.67 L422.89 677.22M422.89 670.66 L423.62 672.12 L423.62 677.22 L424.35 678.67 L425.08 679.4M422.89 670.66 L422.16 669.94 L420.71 669.21 L417.8 669.21 L416.34 669.94 L415.61 670.66 L415.61 671.39 L416.34 671.39 L416.34 670.66M422.89 670.66 L422.89 672.12M422.89 677.22 L423.62 678.67 L425.08 679.4M422.89 677.22 L422.89 672.12M425.08 679.4 L425.8 679.4M431.63 669.94 L430.17 672.12 L430.17 673.58M431.63 669.94 L433.08 669.21 L434.54 669.21 L436 669.94M431.63 669.94 L430.9 670.66M430.17 673.58 L431.63 675.76 L433.08 676.49 L434.54 676.49 L436 675.76M430.17 673.58 L430.9 675.03 L430.17 675.76 L429.44 677.22 L429.44 677.94M436 669.94 L437.45 672.12 L437.45 673.58 L436 675.76M436 669.94 L436.72 671.39 L436.72 674.3M436 669.94 L436.72 670.66 L437.45 669.94M436 675.76 L436.72 675.03M431.63 679.4 L429.44 680.13 L428.72 681.58 L428.72 682.31 L429.44 683.77 L431.63 684.5 L436 684.5 L438.18 683.77 L438.91 682.31 L438.91 681.58M429.44 677.94 L430.17 679.4 L432.36 680.13 L436 680.13 L438.18 680.86 L438.91 681.58M429.44 677.94 L430.17 678.67 L432.36 679.4 L436 679.4 L438.18 680.13 L438.91 681.58M437.45 669.94 L438.91 669.21 L438.91 669.94 L437.45 669.94M430.9 671.39 L430.9 674.3M450.56 669.21 L452.74 669.94 L453.47 671.39 L453.47 679.4M450.56 669.21 L452.01 669.94 L452.74 671.39 L452.74 679.4M450.56 669.21 L449.1 669.21 L446.92 669.94 L445.46 671.39M445.46 671.39 L445.46 669.21 L444.73 669.21M445.46 671.39 L445.46 679.4M442.55 669.21 L444.73 669.21M442.55 679.4 L444.73 679.4M444.73 669.21 L444.73 679.4M444.73 679.4 L445.46 679.4M445.46 679.4 L447.64 679.4M450.56 679.4 L452.74 679.4M452.74 679.4 L453.47 679.4M453.47 679.4 L455.65 679.4M467.3 669.94 L468.76 672.12 L468.76 673.58 L468.03 673.58M467.3 669.94 L465.84 669.21 L463.66 669.21M467.3 669.94 L468.03 671.39 L468.03 673.58M467.3 669.94 L468.03 670.66M460.02 673.58 L460.75 671.39 L462.2 669.94 L463.66 669.21M460.02 673.58 L460.02 675.03 L460.75 677.22 L462.2 678.67 L463.66 679.4M460.02 673.58 L468.03 673.58M463.66 669.21 L461.48 669.94 L460.02 671.39 L459.29 673.58 L459.29 675.03 L460.02 677.22 L461.48 678.67 L463.66 679.4M463.66 679.4 L465.12 679.4 L467.3 678.67 L468.76 677.22M476.76 679.4 L475.31 678.67 L474.58 676.49 L474.58 669.21M476.76 679.4 L476.04 678.67 L475.31 676.49 L475.31 669.21M476.76 679.4 L478.22 679.4 L479.68 678.67 L480.4 677.22M472.4 669.21 L474.58 669.21M474.58 669.21 L474.58 664.11M474.58 669.21 L475.31 669.21M475.31 669.21 L475.31 664.11M475.31 669.21 L478.22 669.21M483.32 669.21 L485.5 669.21M483.32 679.4 L485.5 679.4M485.5 669.21 L485.5 679.4M485.5 669.21 L486.23 669.21 L486.23 679.4M485.5 679.4 L486.23 679.4M486.23 679.4 L488.41 679.4M484.77 664.84 L485.5 664.11 L486.23 664.84 L485.5 665.57 L484.77 664.84M496.42 669.21 L494.24 669.94 L492.78 671.39 L492.05 673.58 L492.05 675.03 L492.78 677.22 L494.24 678.67 L496.42 679.4M496.42 669.21 L494.96 669.94 L493.51 671.39 L492.78 673.58 L492.78 675.03 L493.51 677.22 L494.96 678.67 L496.42 679.4M496.42 669.21 L498.6 669.21 L500.06 669.94 L501.52 671.39 L501.52 672.12 L500.79 672.85 L500.06 672.12 L500.79 671.39M496.42 679.4 L497.88 679.4 L500.06 678.67 L501.52 677.22M510.25 679.4 L508.07 678.67 L507.34 677.22 L507.34 669.21M510.25 679.4 L508.8 678.67 L508.07 677.22 L508.07 669.21 L507.34 669.21M510.25 679.4 L511.71 679.4 L513.89 678.67 L515.35 677.22M515.35 677.22 L515.35 669.21M515.35 677.22 L515.35 679.4 L516.08 679.4M505.16 669.21 L507.34 669.21M513.16 669.21 L515.35 669.21M515.35 669.21 L516.08 669.21 L516.08 679.4M516.08 679.4 L518.26 679.4M529.18 669.21 L531.36 669.94 L532.09 671.39M529.18 669.21 L530.64 669.94 L531.36 671.39 L531.36 679.4M529.18 669.21 L527.72 669.21 L525.54 669.94 L524.08 671.39M537.19 669.21 L539.37 669.94 L540.1 671.39 L540.1 679.4M537.19 669.21 L538.64 669.94 L539.37 671.39 L539.37 679.4M537.19 669.21 L535.73 669.21 L533.55 669.94 L532.09 671.39M532.09 671.39 L532.09 679.4M524.08 671.39 L524.08 669.21 L523.36 669.21M524.08 671.39 L524.08 679.4M521.17 669.21 L523.36 669.21M521.17 679.4 L523.36 679.4M523.36 669.21 L523.36 679.4M523.36 679.4 L524.08 679.4M524.08 679.4 L526.27 679.4M529.18 679.4 L531.36 679.4M531.36 679.4 L532.09 679.4M532.09 679.4 L534.28 679.4M537.19 679.4 L539.37 679.4M539.37 679.4 L540.1 679.4M540.1 679.4 L542.28 679.4M558.3 677.22 L557.57 675.03 L557.57 678.67M558.3 677.22 L557.57 679.4M558.3 677.22 L559.76 678.67 L561.94 679.4 L564.12 679.4 L566.31 678.67 L567.76 677.22 L567.76 674.3M567.04 666.3 L567.76 664.11 L567.76 667.75M567.04 666.3 L567.76 668.48M567.04 666.3 L565.58 664.84 L563.4 664.11 L561.21 664.11 L559.03 664.84 L557.57 666.3 L557.57 667.75M557.57 667.75 L558.3 669.21 L559.03 669.94 L562.67 671.39 L564.85 672.12 L566.31 672.85 L567.76 674.3M557.57 667.75 L559.03 669.21 L562.67 670.66 L564.85 671.39 L566.31 672.12 L567.04 672.85 L567.76 674.3M582.32 664.11 L583.05 668.48M582.32 664.11 L574.32 664.11M582.32 664.11 L583.05 664.11 L583.05 667.75M571.4 664.11 L573.59 664.11M571.4 679.4 L573.59 679.4M573.59 664.11 L573.59 679.4M573.59 664.11 L574.32 664.11M573.59 679.4 L574.32 679.4M574.32 664.11 L574.32 671.39M574.32 679.4 L574.32 671.39M574.32 679.4 L576.5 679.4M574.32 671.39 L578.68 671.39M578.68 671.39 L578.68 668.48M578.68 671.39 L578.68 674.3M404.69 686.71 L406.88 687.44 L407.6 688.17 L408.33 689.62 L408.33 691.08 L407.6 692.54 L406.88 693.26 L404.69 693.99M404.69 686.71 L406.15 687.44 L406.88 688.17 L407.6 689.62 L407.6 691.08 L406.88 692.54 L406.15 693.26 L404.69 693.99M404.69 686.71 L398.87 686.71M404.69 693.99 L406.88 694.72 L407.6 695.45 L408.33 696.9 L408.33 699.09 L407.6 700.54 L406.88 701.27 L404.69 702M404.69 693.99 L406.15 694.72 L406.88 695.45 L407.6 696.9 L407.6 699.09 L406.88 700.54 L406.15 701.27 L404.69 702M404.69 693.99 L398.87 693.99M404.69 702 L398.87 702M395.96 686.71 L398.14 686.71M395.96 702 L398.14 702M398.14 686.71 L398.14 702M398.14 686.71 L398.87 686.71M398.14 702 L398.87 702M398.87 686.71 L398.87 693.99M398.87 702 L398.87 693.99M411.97 691.81 L414.16 691.81M411.97 702 L414.16 702M414.16 691.81 L414.16 702M414.16 691.81 L414.88 691.81 L414.88 702M414.16 702 L414.88 702M414.88 702 L417.07 702M413.43 687.44 L414.16 686.71 L414.88 687.44 L414.16 688.17 L413.43 687.44M421.44 691.81 L425.08 700.54M421.44 691.81 L420.71 691.81M421.44 691.81 L423.62 691.81M420.71 691.81 L425.08 702 L429.44 691.81M420.71 691.81 L419.25 691.81M429.44 691.81 L426.53 691.81M429.44 691.81 L430.9 691.81M433.08 691.81 L435.27 691.81M433.08 702 L435.27 702M435.27 691.81 L435.27 702M435.27 691.81 L436 691.81 L436 702M435.27 702 L436 702M436 702 L438.18 702M434.54 687.44 L435.27 686.71 L436 687.44 L435.27 688.17 L434.54 687.44M444.73 696.18 L449.1 695.45 L449.83 694.72M444.73 696.18 L442.55 696.9 L441.82 698.36 L441.82 699.82 L442.55 701.27 L444.73 702M444.73 696.18 L443.28 696.9 L442.55 698.36 L442.55 699.82 L443.28 701.27 L444.73 702M444.73 702 L446.92 702 L448.37 701.27 L449.83 699.82M449.83 693.26 L450.56 694.72 L450.56 699.82 L451.28 701.27 L452.01 702M449.83 693.26 L449.1 692.54 L447.64 691.81 L444.73 691.81 L443.28 692.54 L442.55 693.26 L442.55 693.99 L443.28 693.99 L443.28 693.26M449.83 693.26 L449.83 694.72M449.83 699.82 L450.56 701.27 L452.01 702M449.83 699.82 L449.83 694.72M452.01 702 L452.74 702M463.66 691.81 L465.84 692.54 L466.57 693.99 L466.57 702M463.66 691.81 L465.12 692.54 L465.84 693.99 L465.84 702M463.66 691.81 L462.2 691.81 L460.02 692.54 L458.56 693.99M458.56 693.99 L458.56 691.81 L457.84 691.81M458.56 693.99 L458.56 702M455.65 691.81 L457.84 691.81M455.65 702 L457.84 702M457.84 691.81 L457.84 702M457.84 702 L458.56 702M458.56 702 L460.75 702M463.66 702 L465.84 702M465.84 702 L466.57 702M466.57 702 L468.76 702M476.76 691.81 L474.58 692.54 L473.12 693.99 L472.4 696.18 L472.4 697.63 L473.12 699.82 L474.58 701.27 L476.76 702M476.76 691.81 L475.31 692.54 L473.85 693.99 L473.12 696.18 L473.12 697.63 L473.85 699.82 L475.31 701.27 L476.76 702M476.76 691.81 L478.22 691.81M476.76 702 L478.22 702M478.22 691.81 L480.4 692.54 L481.86 693.99 L482.59 696.18 L482.59 697.63 L481.86 699.82 L480.4 701.27 L478.22 702M478.22 691.81 L479.68 692.54 L481.13 693.99 L481.86 696.18 L481.86 697.63 L481.13 699.82 L479.68 701.27 L478.22 702M506.61 692.54 L508.07 694.72 L508.07 696.18 L507.34 696.18M506.61 692.54 L505.16 691.81 L502.97 691.81M506.61 692.54 L507.34 693.99 L507.34 696.18M506.61 692.54 L507.34 693.26M499.33 696.18 L500.06 693.99 L501.52 692.54 L502.97 691.81M499.33 696.18 L499.33 697.63 L500.06 699.82 L501.52 701.27 L502.97 702M499.33 696.18 L507.34 696.18M502.97 691.81 L500.79 692.54 L499.33 693.99 L498.6 696.18 L498.6 697.63 L499.33 699.82 L500.79 701.27 L502.97 702M502.97 702 L504.43 702 L506.61 701.27 L508.07 699.82M516.08 702 L514.62 701.27 L513.89 699.09 L513.89 691.81M516.08 702 L515.35 701.27 L514.62 699.09 L514.62 691.81M516.08 702 L517.53 702 L518.99 701.27 L519.72 699.82M511.71 691.81 L513.89 691.81M513.89 691.81 L513.89 686.71M513.89 691.81 L514.62 691.81M514.62 691.81 L514.62 686.71M514.62 691.81 L517.53 691.81M537.92 696.18 L542.28 695.45 L543.01 694.72M537.92 696.18 L535.73 696.9 L535 698.36 L535 699.82 L535.73 701.27 L537.92 702M537.92 696.18 L536.46 696.9 L535.73 698.36 L535.73 699.82 L536.46 701.27 L537.92 702M537.92 702 L540.1 702 L541.56 701.27 L543.01 699.82M543.01 693.26 L543.74 694.72 L543.74 699.82 L544.47 701.27 L545.2 702M543.01 693.26 L542.28 692.54 L540.83 691.81 L537.92 691.81 L536.46 692.54 L535.73 693.26 L535.73 693.99 L536.46 693.99 L536.46 693.26M543.01 693.26 L543.01 694.72M543.01 699.82 L543.74 701.27 L545.2 702M543.01 699.82 L543.01 694.72M545.2 702 L545.92 702M548.84 686.71 L551.02 686.71M548.84 702 L551.02 702M551.02 686.71 L551.02 702M551.02 686.71 L551.75 686.71 L551.75 702M551.02 702 L551.75 702M551.75 702 L553.93 702M558.3 701.27 L559.03 700.54 L559.76 701.27 L559.03 702 L558.3 701.27M579.41 687.44 L577.96 693.99 L577.96 696.18 L578.68 700.54 L579.41 702.73 L580.14 704.18M582.32 683.8 L580.87 685.26 L577.96 690.35 L577.23 694.72 L577.23 696.18 L577.96 700.54 L578.68 702 L580.87 705.64 L582.32 707.1M588.88 699.82 L592.52 702 L595.43 702 L596.16 701.27 L596.88 699.82M588.88 699.82 L592.52 701.27 L594.7 701.27 L596.16 700.54 L596.88 699.82M588.88 699.82 L587.42 699.82 L586.69 700.54M591.79 694.72 L595.43 692.54 L596.16 691.08 L596.16 689.62 L595.43 688.17 L594.7 687.44 L593.24 686.71M593.24 686.71 L595.43 687.44 L596.16 688.17 L596.88 689.62 L596.88 691.08 L596.16 692.54 L593.97 693.99 L588.88 696.18 L587.42 697.63 L586.69 699.82 L586.69 700.54M593.24 686.71 L590.33 686.71 L588.15 687.44 L587.42 688.17 L586.69 689.62 L586.69 690.35 L587.42 691.08 L588.15 690.35 L587.42 689.62M596.88 699.82 L596.88 698.36M586.69 700.54 L586.69 702M605.62 686.71 L603.44 687.44 L601.98 689.62 L601.25 693.99 L601.25 694.72 L601.98 699.09 L603.44 701.27 L605.62 702M605.62 686.71 L604.16 687.44 L603.44 688.17 L602.71 689.62 L601.98 693.99 L601.98 694.72 L602.71 699.09 L603.44 700.54 L604.16 701.27 L605.62 702M605.62 686.71 L607.08 686.71M605.62 702 L607.08 702M607.08 686.71 L609.26 687.44 L610.72 689.62 L611.44 693.26 L611.44 695.45 L610.72 699.09 L609.26 701.27 L607.08 702M607.08 686.71 L608.53 687.44 L609.26 688.17 L609.99 689.62 L610.72 693.26 L610.72 695.45 L609.99 699.09 L609.26 700.54 L608.53 701.27 L607.08 702M618 689.62 L619.45 688.9 L620.91 687.44M620.91 687.44 L621.64 686.71 L621.64 702M620.91 687.44 L620.91 702M618 702 L620.91 702M620.91 702 L621.64 702M621.64 702 L624.55 702M636.92 686.71 L639.11 687.44 L639.84 688.9 L639.84 691.08 L639.11 692.54 L636.92 693.26M636.92 686.71 L638.38 687.44 L639.11 688.9 L639.11 691.08 L638.38 692.54 L636.92 693.26M636.92 686.71 L634.01 686.71 L631.83 687.44 L631.1 688.17 L630.37 689.62 L630.37 690.35 L631.1 691.08 L631.83 690.35 L631.1 689.62M636.92 693.26 L638.38 693.99 L639.11 694.72M636.92 693.26 L634.74 693.26M636.92 702 L639.11 701.27 L639.84 700.54 L640.56 699.09 L640.56 696.9 L639.84 695.45 L639.11 694.72M636.92 702 L638.38 701.27 L639.11 700.54 L639.84 699.09 L639.84 696.9 L639.11 694.72M636.92 702 L634.01 702 L631.83 701.27 L631.1 700.54 L630.37 699.09 L630.37 698.36 L631.1 697.63 L631.83 698.36 L631.1 699.09M647.84 687.44 L649.3 693.99 L649.3 696.9 L648.57 700.54 L647.84 702.73 L647.12 704.18M647.12 686.71 L647.84 688.17M644.93 683.8 L646.39 685.26 L649.3 690.35 L650.03 693.99 L650.03 696.9 L649.3 700.54 L648.57 702 L646.39 705.64 L644.93 707.1M667.5 699.82 L666.77 697.63 L666.77 701.27M667.5 699.82 L666.77 702M667.5 699.82 L668.96 701.27 L671.14 702 L673.32 702 L675.51 701.27 L676.96 699.82 L676.96 696.9M676.24 688.9 L676.96 686.71 L676.96 690.35M676.24 688.9 L676.96 691.08M676.24 688.9 L674.78 687.44 L672.6 686.71 L670.41 686.71 L668.23 687.44 L666.77 688.9 L666.77 690.35M666.77 690.35 L667.5 691.81 L668.23 692.54 L671.87 693.99 L674.05 694.72 L675.51 695.45 L676.96 696.9M666.77 690.35 L668.23 691.81 L671.87 693.26 L674.05 693.99 L675.51 694.72 L676.24 695.45 L676.96 696.9M691.52 686.71 L692.25 691.08M691.52 686.71 L683.52 686.71M691.52 686.71 L692.25 686.71 L692.25 690.35M680.6 686.71 L682.79 686.71M680.6 702 L682.79 702M682.79 686.71 L682.79 702M682.79 686.71 L683.52 686.71M682.79 702 L683.52 702M683.52 686.71 L683.52 693.99M683.52 702 L683.52 693.99M683.52 702 L685.7 702M683.52 693.99 L687.88 693.99M687.88 693.99 L687.88 691.08M687.88 693.99 L687.88 696.9M398.14 708.91 L403.24 724.2 L408.33 708.91M398.14 708.91 L395.96 708.91M398.14 708.91 L398.14 724.2M398.14 708.91 L398.87 708.91 L403.24 722.02M408.33 708.91 L408.33 724.2M408.33 708.91 L409.06 708.91M395.96 724.2 L398.14 724.2M398.14 724.2 L400.32 724.2M406.15 724.2 L408.33 724.2M408.33 724.2 L409.06 724.2M409.06 708.91 L409.06 724.2M409.06 708.91 L411.24 708.91M409.06 724.2 L411.24 724.2M417.8 718.38 L422.16 717.65 L422.89 716.92M417.8 718.38 L415.61 719.1 L414.88 720.56 L414.88 722.02 L415.61 723.47 L417.8 724.2M417.8 718.38 L416.34 719.1 L415.61 720.56 L415.61 722.02 L416.34 723.47 L417.8 724.2M417.8 724.2 L419.98 724.2 L421.44 723.47 L422.89 722.02M422.89 715.46 L423.62 716.92 L423.62 722.02 L424.35 723.47 L425.08 724.2M422.89 715.46 L422.16 714.74 L420.71 714.01 L417.8 714.01 L416.34 714.74 L415.61 715.46 L415.61 716.19 L416.34 716.19 L416.34 715.46M422.89 715.46 L422.89 716.92M422.89 722.02 L423.62 723.47 L425.08 724.2M422.89 722.02 L422.89 716.92M425.08 724.2 L425.8 724.2M431.63 714.74 L430.17 716.92 L430.17 718.38M431.63 714.74 L433.08 714.01 L434.54 714.01 L436 714.74M431.63 714.74 L430.9 715.46M430.17 718.38 L431.63 720.56 L433.08 721.29 L434.54 721.29 L436 720.56M430.17 718.38 L430.9 719.83 L430.17 720.56 L429.44 722.02 L429.44 722.74M436 714.74 L437.45 716.92 L437.45 718.38 L436 720.56M436 714.74 L436.72 716.19 L436.72 719.1M436 714.74 L436.72 715.46 L437.45 714.74M436 720.56 L436.72 719.83M431.63 724.2 L429.44 724.93 L428.72 726.38 L428.72 727.11 L429.44 728.57 L431.63 729.3 L436 729.3 L438.18 728.57 L438.91 727.11 L438.91 726.38M429.44 722.74 L430.17 724.2 L432.36 724.93 L436 724.93 L438.18 725.66 L438.91 726.38M429.44 722.74 L430.17 723.47 L432.36 724.2 L436 724.2 L438.18 724.93 L438.91 726.38M437.45 714.74 L438.91 714.01 L438.91 714.74 L437.45 714.74M430.9 716.19 L430.9 719.1M450.56 714.01 L452.74 714.74 L453.47 716.19 L453.47 724.2M450.56 714.01 L452.01 714.74 L452.74 716.19 L452.74 724.2M450.56 714.01 L449.1 714.01 L446.92 714.74 L445.46 716.19M445.46 716.19 L445.46 714.01 L444.73 714.01M445.46 716.19 L445.46 724.2M442.55 714.01 L444.73 714.01M442.55 724.2 L444.73 724.2M444.73 714.01 L444.73 724.2M444.73 724.2 L445.46 724.2M445.46 724.2 L447.64 724.2M450.56 724.2 L452.74 724.2M452.74 724.2 L453.47 724.2M453.47 724.2 L455.65 724.2M467.3 714.74 L468.76 716.92 L468.76 718.38 L468.03 718.38M467.3 714.74 L465.84 714.01 L463.66 714.01M467.3 714.74 L468.03 716.19 L468.03 718.38M467.3 714.74 L468.03 715.46M460.02 718.38 L460.75 716.19 L462.2 714.74 L463.66 714.01M460.02 718.38 L460.02 719.83 L460.75 722.02 L462.2 723.47 L463.66 724.2M460.02 718.38 L468.03 718.38M463.66 714.01 L461.48 714.74 L460.02 716.19 L459.29 718.38 L459.29 719.83 L460.02 722.02 L461.48 723.47 L463.66 724.2M463.66 724.2 L465.12 724.2 L467.3 723.47 L468.76 722.02M476.76 724.2 L475.31 723.47 L474.58 721.29 L474.58 714.01M476.76 724.2 L476.04 723.47 L475.31 721.29 L475.31 714.01M476.76 724.2 L478.22 724.2 L479.68 723.47 L480.4 722.02M472.4 714.01 L474.58 714.01M474.58 714.01 L474.58 708.91M474.58 714.01 L475.31 714.01M475.31 714.01 L475.31 708.91M475.31 714.01 L478.22 714.01M483.32 714.01 L485.5 714.01M483.32 724.2 L485.5 724.2M485.5 714.01 L485.5 724.2M485.5 714.01 L486.23 714.01 L486.23 724.2M485.5 724.2 L486.23 724.2M486.23 724.2 L488.41 724.2M484.77 709.64 L485.5 708.91 L486.23 709.64 L485.5 710.37 L484.77 709.64M496.42 714.01 L494.24 714.74 L492.78 716.19 L492.05 718.38 L492.05 719.83 L492.78 722.02 L494.24 723.47 L496.42 724.2M496.42 714.01 L494.96 714.74 L493.51 716.19 L492.78 718.38 L492.78 719.83 L493.51 722.02 L494.96 723.47 L496.42 724.2M496.42 714.01 L498.6 714.01 L500.06 714.74 L501.52 716.19 L501.52 716.92 L500.79 717.65 L500.06 716.92 L500.79 716.19M496.42 724.2 L497.88 724.2 L500.06 723.47 L501.52 722.02M510.25 724.2 L508.07 723.47 L507.34 722.02 L507.34 714.01M510.25 724.2 L508.8 723.47 L508.07 722.02 L508.07 714.01 L507.34 714.01M510.25 724.2 L511.71 724.2 L513.89 723.47 L515.35 722.02M515.35 722.02 L515.35 714.01M515.35 722.02 L515.35 724.2 L516.08 724.2M505.16 714.01 L507.34 714.01M513.16 714.01 L515.35 714.01M515.35 714.01 L516.08 714.01 L516.08 724.2M516.08 724.2 L518.26 724.2M529.18 714.01 L531.36 714.74 L532.09 716.19M529.18 714.01 L530.64 714.74 L531.36 716.19 L531.36 724.2M529.18 714.01 L527.72 714.01 L525.54 714.74 L524.08 716.19M537.19 714.01 L539.37 714.74 L540.1 716.19 L540.1 724.2M537.19 714.01 L538.64 714.74 L539.37 716.19 L539.37 724.2M537.19 714.01 L535.73 714.01 L533.55 714.74 L532.09 716.19M532.09 716.19 L532.09 724.2M524.08 716.19 L524.08 714.01 L523.36 714.01M524.08 716.19 L524.08 724.2M521.17 714.01 L523.36 714.01M521.17 724.2 L523.36 724.2M523.36 714.01 L523.36 724.2M523.36 724.2 L524.08 724.2M524.08 724.2 L526.27 724.2M529.18 724.2 L531.36 724.2M531.36 724.2 L532.09 724.2M532.09 724.2 L534.28 724.2M537.19 724.2 L539.37 724.2M539.37 724.2 L540.1 724.2M540.1 724.2 L542.28 724.2M565.58 722.02 L566.31 727.11 L567.04 727.84 L568.49 727.84 L569.22 726.38M565.58 722.02 L566.31 724.93 L567.04 726.38 L567.76 727.11 L568.49 727.11 L569.22 726.38M565.58 722.02 L564.85 720.56 L563.4 719.83 L562.67 719.83 L561.21 720.56 L560.48 722.02 L560.48 722.74M562.67 708.91 L560.48 709.64 L559.03 711.1 L558.3 712.55 L557.57 715.46 L557.57 717.65 L558.3 720.56 L559.03 722.02 L560.48 723.47 L562.67 724.2M562.67 708.91 L561.21 709.64 L559.76 711.1 L559.03 712.55 L558.3 715.46 L558.3 717.65 L559.03 720.56 L559.76 722.02 L560.48 722.74M562.67 708.91 L564.12 708.91M562.67 724.2 L561.21 723.47 L560.48 722.74M562.67 724.2 L564.12 724.2M564.12 708.91 L566.31 709.64 L567.76 711.1 L568.49 712.55 L569.22 715.46 L569.22 717.65 L568.49 720.56 L567.76 722.02 L566.31 723.47 L564.12 724.2M564.12 708.91 L565.58 709.64 L567.04 711.1 L567.76 712.55 L568.49 715.46 L568.49 717.65 L567.76 720.56 L567.04 722.02 L565.58 723.47 L564.12 724.2M569.22 726.38 L569.22 725.66M577.96 724.2 L575.77 723.47 L575.04 722.02 L575.04 714.01M577.96 724.2 L576.5 723.47 L575.77 722.02 L575.77 714.01 L575.04 714.01M577.96 724.2 L579.41 724.2 L581.6 723.47 L583.05 722.02M583.05 722.02 L583.05 714.01M583.05 722.02 L583.05 724.2 L583.78 724.2M572.86 714.01 L575.04 714.01M580.87 714.01 L583.05 714.01M583.05 714.01 L583.78 714.01 L583.78 724.2M583.78 724.2 L585.96 724.2M588.88 714.01 L591.06 714.01M588.88 724.2 L591.06 724.2M591.06 714.01 L591.06 724.2M591.06 714.01 L591.79 714.01 L591.79 724.2M591.06 724.2 L591.79 724.2M591.79 724.2 L593.97 724.2M590.33 709.64 L591.06 708.91 L591.79 709.64 L591.06 710.37 L590.33 709.64M605.62 714.74 L607.08 716.92 L607.08 718.38 L606.35 718.38M605.62 714.74 L604.16 714.01 L601.98 714.01M605.62 714.74 L606.35 716.19 L606.35 718.38M605.62 714.74 L606.35 715.46M598.34 718.38 L599.07 716.19 L600.52 714.74 L601.98 714.01M598.34 718.38 L598.34 719.83 L599.07 722.02 L600.52 723.47 L601.98 724.2M598.34 718.38 L606.35 718.38M601.98 714.01 L599.8 714.74 L598.34 716.19 L597.61 718.38 L597.61 719.83 L598.34 722.02 L599.8 723.47 L601.98 724.2M601.98 724.2 L603.44 724.2 L605.62 723.47 L607.08 722.02M612.17 722.74 L611.44 721.29 L611.44 724.2 L612.17 722.74M612.17 722.74 L612.9 723.47 L614.36 724.2 L617.27 724.2 L618.72 723.47 L619.45 722.74 L619.45 721.29M618.72 715.46 L619.45 714.01 L619.45 716.92 L618.72 715.46M618.72 715.46 L618 714.74 L616.54 714.01 L613.63 714.01 L612.17 714.74 L611.44 715.46 L611.44 716.19M611.44 716.19 L612.17 716.92 L618.72 719.83 L619.45 720.56 L619.45 721.29M611.44 716.19 L611.44 716.92 L612.17 717.65 L618.72 720.56 L619.45 721.29M628.19 714.01 L626 714.74 L624.55 716.19 L623.82 718.38 L623.82 719.83 L624.55 722.02 L626 723.47 L628.19 724.2M628.19 714.01 L626.73 714.74 L625.28 716.19 L624.55 718.38 L624.55 719.83 L625.28 722.02 L626.73 723.47 L628.19 724.2M628.19 714.01 L630.37 714.01 L631.83 714.74 L633.28 716.19 L633.28 716.92 L632.56 717.65 L631.83 716.92 L632.56 716.19M628.19 724.2 L629.64 724.2 L631.83 723.47 L633.28 722.02M645.66 714.74 L647.12 716.92 L647.12 718.38 L646.39 718.38M645.66 714.74 L644.2 714.01 L642.02 714.01M645.66 714.74 L646.39 716.19 L646.39 718.38M645.66 714.74 L646.39 715.46M638.38 718.38 L639.11 716.19 L640.56 714.74 L642.02 714.01M638.38 718.38 L638.38 719.83 L639.11 722.02 L640.56 723.47 L642.02 724.2M638.38 718.38 L646.39 718.38M642.02 714.01 L639.84 714.74 L638.38 716.19 L637.65 718.38 L637.65 719.83 L638.38 722.02 L639.84 723.47 L642.02 724.2M642.02 724.2 L643.48 724.2 L645.66 723.47 L647.12 722.02M658.76 714.01 L660.95 714.74 L661.68 716.19 L661.68 724.2M658.76 714.01 L660.22 714.74 L660.95 716.19 L660.95 724.2M658.76 714.01 L657.31 714.01 L655.12 714.74 L653.67 716.19M653.67 716.19 L653.67 714.01 L652.94 714.01M653.67 716.19 L653.67 724.2M650.76 714.01 L652.94 714.01M650.76 724.2 L652.94 724.2M652.94 714.01 L652.94 724.2M652.94 724.2 L653.67 724.2M653.67 724.2 L655.85 724.2M658.76 724.2 L660.95 724.2M660.95 724.2 L661.68 724.2M661.68 724.2 L663.86 724.2M671.14 724.2 L669.68 723.47 L668.96 721.29 L668.96 714.01M671.14 724.2 L670.41 723.47 L669.68 721.29 L669.68 714.01M671.14 724.2 L672.6 724.2 L674.05 723.47 L674.78 722.02M666.77 714.01 L668.96 714.01M668.96 714.01 L668.96 708.91M668.96 714.01 L669.68 714.01M669.68 714.01 L669.68 708.91M669.68 714.01 L672.6 714.01M404.69 731.11 L406.88 731.84 L407.6 732.57 L408.33 734.02 L408.33 735.48 L407.6 736.94 L406.88 737.66 L404.69 738.39M404.69 731.11 L406.15 731.84 L406.88 732.57 L407.6 734.02 L407.6 735.48 L406.88 736.94 L406.15 737.66 L404.69 738.39M404.69 731.11 L398.87 731.11M404.69 738.39 L406.88 739.12 L407.6 739.85 L408.33 741.3 L408.33 743.49 L407.6 744.94 L406.88 745.67 L404.69 746.4M404.69 738.39 L406.15 739.12 L406.88 739.85 L407.6 741.3 L407.6 743.49 L406.88 744.94 L406.15 745.67 L404.69 746.4M404.69 738.39 L398.87 738.39M404.69 746.4 L398.87 746.4M395.96 731.11 L398.14 731.11M395.96 746.4 L398.14 746.4M398.14 731.11 L398.14 746.4M398.14 731.11 L398.87 731.11M398.14 746.4 L398.87 746.4M398.87 731.11 L398.87 738.39M398.87 746.4 L398.87 738.39M411.97 736.21 L414.16 736.21M411.97 746.4 L414.16 746.4M414.16 736.21 L414.16 746.4M414.16 736.21 L414.88 736.21 L414.88 746.4M414.16 746.4 L414.88 746.4M414.88 746.4 L417.07 746.4M413.43 731.84 L414.16 731.11 L414.88 731.84 L414.16 732.57 L413.43 731.84M421.44 736.21 L425.08 744.94M421.44 736.21 L420.71 736.21M421.44 736.21 L423.62 736.21M420.71 736.21 L425.08 746.4 L429.44 736.21M420.71 736.21 L419.25 736.21M429.44 736.21 L426.53 736.21M429.44 736.21 L430.9 736.21M433.08 736.21 L435.27 736.21M433.08 746.4 L435.27 746.4M435.27 736.21 L435.27 746.4M435.27 736.21 L436 736.21 L436 746.4M435.27 746.4 L436 746.4M436 746.4 L438.18 746.4M434.54 731.84 L435.27 731.11 L436 731.84 L435.27 732.57 L434.54 731.84M444.73 740.58 L449.1 739.85 L449.83 739.12M444.73 740.58 L442.55 741.3 L441.82 742.76 L441.82 744.22 L442.55 745.67 L444.73 746.4M444.73 740.58 L443.28 741.3 L442.55 742.76 L442.55 744.22 L443.28 745.67 L444.73 746.4M444.73 746.4 L446.92 746.4 L448.37 745.67 L449.83 744.22M449.83 737.66 L450.56 739.12 L450.56 744.22 L451.28 745.67 L452.01 746.4M449.83 737.66 L449.1 736.94 L447.64 736.21 L444.73 736.21 L443.28 736.94 L442.55 737.66 L442.55 738.39 L443.28 738.39 L443.28 737.66M449.83 737.66 L449.83 739.12M449.83 744.22 L450.56 745.67 L452.01 746.4M449.83 744.22 L449.83 739.12M452.01 746.4 L452.74 746.4M463.66 736.21 L465.84 736.94 L466.57 738.39 L466.57 746.4M463.66 736.21 L465.12 736.94 L465.84 738.39 L465.84 746.4M463.66 736.21 L462.2 736.21 L460.02 736.94 L458.56 738.39M458.56 738.39 L458.56 736.21 L457.84 736.21M458.56 738.39 L458.56 746.4M455.65 736.21 L457.84 736.21M455.65 746.4 L457.84 746.4M457.84 736.21 L457.84 746.4M457.84 746.4 L458.56 746.4M458.56 746.4 L460.75 746.4M463.66 746.4 L465.84 746.4M465.84 746.4 L466.57 746.4M466.57 746.4 L468.76 746.4M476.76 736.21 L474.58 736.94 L473.12 738.39 L472.4 740.58 L472.4 742.03 L473.12 744.22 L474.58 745.67 L476.76 746.4M476.76 736.21 L475.31 736.94 L473.85 738.39 L473.12 740.58 L473.12 742.03 L473.85 744.22 L475.31 745.67 L476.76 746.4M476.76 736.21 L478.22 736.21M476.76 746.4 L478.22 746.4M478.22 736.21 L480.4 736.94 L481.86 738.39 L482.59 740.58 L482.59 742.03 L481.86 744.22 L480.4 745.67 L478.22 746.4M478.22 736.21 L479.68 736.94 L481.13 738.39 L481.86 740.58 L481.86 742.03 L481.13 744.22 L479.68 745.67 L478.22 746.4M506.61 736.94 L508.07 739.12 L508.07 740.58 L507.34 740.58M506.61 736.94 L505.16 736.21 L502.97 736.21M506.61 736.94 L507.34 738.39 L507.34 740.58M506.61 736.94 L507.34 737.66M499.33 740.58 L500.06 738.39 L501.52 736.94 L502.97 736.21M499.33 740.58 L499.33 742.03 L500.06 744.22 L501.52 745.67 L502.97 746.4M499.33 740.58 L507.34 740.58M502.97 736.21 L500.79 736.94 L499.33 738.39 L498.6 740.58 L498.6 742.03 L499.33 744.22 L500.79 745.67 L502.97 746.4M502.97 746.4 L504.43 746.4 L506.61 745.67 L508.07 744.22M516.08 746.4 L514.62 745.67 L513.89 743.49 L513.89 736.21M516.08 746.4 L515.35 745.67 L514.62 743.49 L514.62 736.21M516.08 746.4 L517.53 746.4 L518.99 745.67 L519.72 744.22M511.71 736.21 L513.89 736.21M513.89 736.21 L513.89 731.11M513.89 736.21 L514.62 736.21M514.62 736.21 L514.62 731.11M514.62 736.21 L517.53 736.21M537.92 740.58 L542.28 739.85 L543.01 739.12M537.92 740.58 L535.73 741.3 L535 742.76 L535 744.22 L535.73 745.67 L537.92 746.4M537.92 740.58 L536.46 741.3 L535.73 742.76 L535.73 744.22 L536.46 745.67 L537.92 746.4M537.92 746.4 L540.1 746.4 L541.56 745.67 L543.01 744.22M543.01 737.66 L543.74 739.12 L543.74 744.22 L544.47 745.67 L545.2 746.4M543.01 737.66 L542.28 736.94 L540.83 736.21 L537.92 736.21 L536.46 736.94 L535.73 737.66 L535.73 738.39 L536.46 738.39 L536.46 737.66M543.01 737.66 L543.01 739.12M543.01 744.22 L543.74 745.67 L545.2 746.4M543.01 744.22 L543.01 739.12M545.2 746.4 L545.92 746.4M548.84 731.11 L551.02 731.11M548.84 746.4 L551.02 746.4M551.02 731.11 L551.02 746.4M551.02 731.11 L551.75 731.11 L551.75 746.4M551.02 746.4 L551.75 746.4M551.75 746.4 L553.93 746.4M558.3 745.67 L559.03 744.94 L559.76 745.67 L559.03 746.4 L558.3 745.67M579.41 731.84 L577.96 738.39 L577.96 740.58 L578.68 744.94 L579.41 747.13 L580.14 748.58M582.32 728.2 L580.87 729.66 L577.96 734.75 L577.23 739.12 L577.23 740.58 L577.96 744.94 L578.68 746.4 L580.87 750.04 L582.32 751.5M588.88 744.22 L592.52 746.4 L595.43 746.4 L596.16 745.67 L596.88 744.22M588.88 744.22 L592.52 745.67 L594.7 745.67 L596.16 744.94 L596.88 744.22M588.88 744.22 L587.42 744.22 L586.69 744.94M591.79 739.12 L595.43 736.94 L596.16 735.48 L596.16 734.02 L595.43 732.57 L594.7 731.84 L593.24 731.11M593.24 731.11 L595.43 731.84 L596.16 732.57 L596.88 734.02 L596.88 735.48 L596.16 736.94 L593.97 738.39 L588.88 740.58 L587.42 742.03 L586.69 744.22 L586.69 744.94M593.24 731.11 L590.33 731.11 L588.15 731.84 L587.42 732.57 L586.69 734.02 L586.69 734.75 L587.42 735.48 L588.15 734.75 L587.42 734.02M596.88 744.22 L596.88 742.76M586.69 744.94 L586.69 746.4M605.62 731.11 L603.44 731.84 L601.98 734.02 L601.25 738.39 L601.25 739.12 L601.98 743.49 L603.44 745.67 L605.62 746.4M605.62 731.11 L604.16 731.84 L603.44 732.57 L602.71 734.02 L601.98 738.39 L601.98 739.12 L602.71 743.49 L603.44 744.94 L604.16 745.67 L605.62 746.4M605.62 731.11 L607.08 731.11M605.62 746.4 L607.08 746.4M607.08 731.11 L609.26 731.84 L610.72 734.02 L611.44 737.66 L611.44 739.85 L610.72 743.49 L609.26 745.67 L607.08 746.4M607.08 731.11 L608.53 731.84 L609.26 732.57 L609.99 734.02 L610.72 737.66 L610.72 739.85 L609.99 743.49 L609.26 744.94 L608.53 745.67 L607.08 746.4M618 734.02 L619.45 733.3 L620.91 731.84M620.91 731.84 L621.64 731.11 L621.64 746.4M620.91 731.84 L620.91 746.4M618 746.4 L620.91 746.4M620.91 746.4 L621.64 746.4M621.64 746.4 L624.55 746.4M636.92 731.11 L639.11 731.84 L639.84 733.3 L639.84 735.48 L639.11 736.94 L636.92 737.66M636.92 731.11 L638.38 731.84 L639.11 733.3 L639.11 735.48 L638.38 736.94 L636.92 737.66M636.92 731.11 L634.01 731.11 L631.83 731.84 L631.1 732.57 L630.37 734.02 L630.37 734.75 L631.1 735.48 L631.83 734.75 L631.1 734.02M636.92 737.66 L638.38 738.39 L639.11 739.12M636.92 737.66 L634.74 737.66M636.92 746.4 L639.11 745.67 L639.84 744.94 L640.56 743.49 L640.56 741.3 L639.84 739.85 L639.11 739.12M636.92 746.4 L638.38 745.67 L639.11 744.94 L639.84 743.49 L639.84 741.3 L639.11 739.12M636.92 746.4 L634.01 746.4 L631.83 745.67 L631.1 744.94 L630.37 743.49 L630.37 742.76 L631.1 742.03 L631.83 742.76 L631.1 743.49M647.84 731.84 L649.3 738.39 L649.3 741.3 L648.57 744.94 L647.84 747.13 L647.12 748.58M647.12 731.11 L647.84 732.57M644.93 728.2 L646.39 729.66 L649.3 734.75 L650.03 738.39 L650.03 741.3 L649.3 744.94 L648.57 746.4 L646.39 750.04 L644.93 751.5M674.78 744.22 L675.51 749.31 L676.24 750.04 L677.69 750.04 L678.42 748.58M674.78 744.22 L675.51 747.13 L676.24 748.58 L676.96 749.31 L677.69 749.31 L678.42 748.58M674.78 744.22 L674.05 742.76 L672.6 742.03 L671.87 742.03 L670.41 742.76 L669.68 744.22 L669.68 744.94M671.87 731.11 L669.68 731.84 L668.23 733.3 L667.5 734.75 L666.77 737.66 L666.77 739.85 L667.5 742.76 L668.23 744.22 L669.68 745.67 L671.87 746.4M671.87 731.11 L670.41 731.84 L668.96 733.3 L668.23 734.75 L667.5 737.66 L667.5 739.85 L668.23 742.76 L668.96 744.22 L669.68 744.94M671.87 731.11 L673.32 731.11M671.87 746.4 L670.41 745.67 L669.68 744.94M671.87 746.4 L673.32 746.4M673.32 731.11 L675.51 731.84 L676.96 733.3 L677.69 734.75 L678.42 737.66 L678.42 739.85 L677.69 742.76 L676.96 744.22 L675.51 745.67 L673.32 746.4M673.32 731.11 L674.78 731.84 L676.24 733.3 L676.96 734.75 L677.69 737.66 L677.69 739.85 L676.96 742.76 L676.24 744.22 L674.78 745.67 L673.32 746.4M678.42 748.58 L678.42 747.86M687.16 746.4 L684.97 745.67 L684.24 744.22 L684.24 736.21M687.16 746.4 L685.7 745.67 L684.97 744.22 L684.97 736.21 L684.24 736.21M687.16 746.4 L688.61 746.4 L690.8 745.67 L692.25 744.22M692.25 744.22 L692.25 736.21M692.25 744.22 L692.25 746.4 L692.98 746.4M682.06 736.21 L684.24 736.21M690.07 736.21 L692.25 736.21M692.25 736.21 L692.98 736.21 L692.98 746.4M692.98 746.4 L695.16 746.4M698.08 736.21 L700.26 736.21M698.08 746.4 L700.26 746.4M700.26 736.21 L700.26 746.4M700.26 736.21 L700.99 736.21 L700.99 746.4M700.26 746.4 L700.99 746.4M700.99 746.4 L703.17 746.4M699.53 731.84 L700.26 731.11 L700.99 731.84 L700.26 732.57 L699.53 731.84M714.82 736.94 L716.28 739.12 L716.28 740.58 L715.55 740.58M714.82 736.94 L713.36 736.21 L711.18 736.21M714.82 736.94 L715.55 738.39 L715.55 740.58M714.82 736.94 L715.55 737.66M707.54 740.58 L708.27 738.39 L709.72 736.94 L711.18 736.21M707.54 740.58 L707.54 742.03 L708.27 744.22 L709.72 745.67 L711.18 746.4M707.54 740.58 L715.55 740.58M711.18 736.21 L709 736.94 L707.54 738.39 L706.81 740.58 L706.81 742.03 L707.54 744.22 L709 745.67 L711.18 746.4M711.18 746.4 L712.64 746.4 L714.82 745.67 L716.28 744.22M721.37 744.94 L720.64 743.49 L720.64 746.4 L721.37 744.94M721.37 744.94 L722.1 745.67 L723.56 746.4 L726.47 746.4 L727.92 745.67 L728.65 744.94 L728.65 743.49M727.92 737.66 L728.65 736.21 L728.65 739.12 L727.92 737.66M727.92 737.66 L727.2 736.94 L725.74 736.21 L722.83 736.21 L721.37 736.94 L720.64 737.66 L720.64 738.39M720.64 738.39 L721.37 739.12 L727.92 742.03 L728.65 742.76 L728.65 743.49M720.64 738.39 L720.64 739.12 L721.37 739.85 L727.92 742.76 L728.65 743.49M737.39 736.21 L735.2 736.94 L733.75 738.39 L733.02 740.58 L733.02 742.03 L733.75 744.22 L735.2 745.67 L737.39 746.4M737.39 736.21 L735.93 736.94 L734.48 738.39 L733.75 740.58 L733.75 742.03 L734.48 744.22 L735.93 745.67 L737.39 746.4M737.39 736.21 L739.57 736.21 L741.03 736.94 L742.48 738.39 L742.48 739.12 L741.76 739.85 L741.03 739.12 L741.76 738.39M737.39 746.4 L738.84 746.4 L741.03 745.67 L742.48 744.22M754.86 736.94 L756.32 739.12 L756.32 740.58 L755.59 740.58M754.86 736.94 L753.4 736.21 L751.22 736.21M754.86 736.94 L755.59 738.39 L755.59 740.58M754.86 736.94 L755.59 737.66M747.58 740.58 L748.31 738.39 L749.76 736.94 L751.22 736.21M747.58 740.58 L747.58 742.03 L748.31 744.22 L749.76 745.67 L751.22 746.4M747.58 740.58 L755.59 740.58M751.22 736.21 L749.04 736.94 L747.58 738.39 L746.85 740.58 L746.85 742.03 L747.58 744.22 L749.04 745.67 L751.22 746.4M751.22 746.4 L752.68 746.4 L754.86 745.67 L756.32 744.22M767.96 736.21 L770.15 736.94 L770.88 738.39 L770.88 746.4M767.96 736.21 L769.42 736.94 L770.15 738.39 L770.15 746.4M767.96 736.21 L766.51 736.21 L764.32 736.94 L762.87 738.39M762.87 738.39 L762.87 736.21 L762.14 736.21M762.87 738.39 L762.87 746.4M759.96 736.21 L762.14 736.21M759.96 746.4 L762.14 746.4M762.14 736.21 L762.14 746.4M762.14 746.4 L762.87 746.4M762.87 746.4 L765.05 746.4M767.96 746.4 L770.15 746.4M770.15 746.4 L770.88 746.4M770.88 746.4 L773.06 746.4M780.34 746.4 L778.88 745.67 L778.16 743.49 L778.16 736.21M780.34 746.4 L779.61 745.67 L778.88 743.49 L778.88 736.21M780.34 746.4 L781.8 746.4 L783.25 745.67 L783.98 744.22M775.97 736.21 L778.16 736.21M778.16 736.21 L778.16 731.11M778.16 736.21 L778.88 736.21M778.88 736.21 L778.88 731.11M778.88 736.21 L781.8 736.21" stroke="#989898" stroke-width="0.92" fill="none" stroke-linecap="round" stroke-linejoin="round"/>
<path d="M355 308.3H378" stroke="#909090" stroke-width="1" fill="none"/>
<path d="M361.4 331.2H376.5" stroke="#6a6a6a" stroke-width="0.85" stroke-dasharray="3.3 3.4" fill="none"/><path d="M353 331.2h4M355 329.2v4M375.8 331.2h4M377.8 329.2v4" stroke="#6a6a6a" stroke-width="0.85" fill="none"/>
<path d="M355 680.3H378" stroke="#9ccbf6" stroke-width="1" fill="none"/>
<path d="M361.4 702.6H376.5" stroke="#62aaf3" stroke-width="0.85" stroke-dasharray="3.3 3.4" fill="none"/><path d="M353 702.6h4M355 700.6v4M375.8 702.6h4M377.8 700.6v4" stroke="#62aaf3" stroke-width="0.85" fill="none"/>
<path d="M355 724.6H378" stroke="#f5a0a0" stroke-width="1" fill="none"/>
<path d="M361.4 746.6H376.5" stroke="#f66b6d" stroke-width="0.85" stroke-dasharray="3.3 3.4" fill="none"/><path d="M353 746.6h4M355 744.6v4M375.8 746.6h4M377.8 744.6v4" stroke="#f66b6d" stroke-width="0.85" fill="none"/>
<path d="M61.98 17.48 L63.43 16.75 L65.6 14.58 L65.6 29.8M75.03 29.07 L75.75 28.35 L76.47 29.07 L75.75 29.8 L75.03 29.07M81.55 21.83 L82.28 17.48 L83.72 15.3 L85.9 14.58 L87.35 14.58 L89.53 15.3 L90.97 17.48 L91.7 21.1 L91.7 23.28 L90.97 26.9 L89.53 29.07 L87.35 29.8 L85.9 29.8 L83.72 29.07 L82.28 26.9 L81.55 22.55 L81.55 21.83M59.8 64.61 L60.53 60.26 L61.98 58.09 L64.15 57.36 L65.6 57.36 L67.78 58.09 L69.23 60.26 L69.95 63.89 L69.95 66.06 L69.23 69.69 L67.78 71.86 L65.6 72.59 L64.15 72.59 L61.98 71.86 L60.53 69.69 L59.8 65.34 L59.8 64.61M75.03 71.86 L75.75 71.14 L76.47 71.86 L75.75 72.59 L75.03 71.86M83.72 64.61 L88.8 63.16 L90.25 62.44 L90.97 60.99 L90.97 59.54 L90.25 58.09 L88.08 57.36 L85.17 57.36 L83 58.09 L82.28 59.54 L82.28 60.99 L83 62.44 L84.45 63.16 L89.53 64.61 L90.97 66.06 L91.7 67.51 L91.7 69.69 L90.97 71.14 L90.25 71.86 L88.08 72.59 L85.17 72.59 L83 71.86 L82.28 71.14 L81.55 69.69 L81.55 67.51 L82.28 66.06 L83.72 64.61M59.8 114.11 L60.53 109.75 L61.98 107.58 L64.15 106.86 L65.6 106.86 L67.78 107.58 L69.23 109.75 L69.95 113.38 L69.95 115.55 L69.23 119.18 L67.78 121.36 L65.6 122.08 L64.15 122.08 L61.98 121.36 L60.53 119.18 L59.8 114.83 L59.8 114.11M75.03 121.36 L75.75 120.63 L76.47 121.36 L75.75 122.08 L75.03 121.36M90.97 109.03 L90.25 107.58 L88.08 106.86 L86.62 106.86 L84.45 107.58 L83 109.75 L82.28 114.11 L82.28 116.28M82.28 117 L83 119.91 L84.45 121.36 L86.62 122.08 L87.35 122.08 L89.53 121.36 L90.97 119.91 L91.7 117.73 L91.7 117 L90.97 114.83 L89.53 113.38 L87.35 112.66 L86.62 112.66 L84.45 113.38 L83 114.83 L82.28 117M59.08 163.6 L59.8 159.25 L61.25 157.07 L63.43 156.35 L64.88 156.35 L67.05 157.07 L68.5 159.25 L69.23 162.87 L69.23 165.05 L68.5 168.67 L67.05 170.85 L64.88 171.57 L63.43 171.57 L61.25 170.85 L59.8 168.67 L59.08 164.32 L59.08 163.6M74.3 170.85 L75.03 170.12 L75.75 170.85 L75.03 171.57 L74.3 170.85M88.08 166.5 L80.83 166.5 L88.08 156.35 L88.08 166.5M88.08 166.5 L88.08 171.57M88.08 166.5 L91.7 166.5M59.8 213.09 L60.53 208.74 L61.98 206.56 L64.15 205.84 L65.6 205.84 L67.78 206.56 L69.23 208.74 L69.95 212.36 L69.95 214.54 L69.23 218.16 L67.78 220.34 L65.6 221.06 L64.15 221.06 L61.98 220.34 L60.53 218.16 L59.8 213.81 L59.8 213.09M75.03 220.34 L75.75 219.61 L76.47 220.34 L75.75 221.06 L75.03 220.34M82.28 209.46 L82.28 208.74 L83 207.29 L83.72 206.56 L85.17 205.84 L88.08 205.84 L89.53 206.56 L90.25 207.29 L90.97 208.74 L90.97 210.19 L88.8 213.81 L81.55 221.06 L91.7 221.06M59.8 262.57 L60.53 258.23 L61.98 256.05 L64.15 255.33 L65.6 255.33 L67.78 256.05 L69.23 258.23 L69.95 261.85 L69.95 264.03 L69.23 267.65 L67.78 269.82 L65.6 270.55 L64.15 270.55 L61.98 269.82 L60.53 267.65 L59.8 263.3 L59.8 262.57M75.03 269.82 L75.75 269.1 L76.47 269.82 L75.75 270.55 L75.03 269.82M81.55 262.57 L82.28 258.23 L83.72 256.05 L85.9 255.33 L87.35 255.33 L89.53 256.05 L90.97 258.23 L91.7 261.85 L91.7 264.03 L90.97 267.65 L89.53 269.82 L87.35 270.55 L85.9 270.55 L83.72 269.82 L82.28 267.65 L81.55 263.3 L81.55 262.57M41.68 313.52 L54.73 313.52M59.8 312.06 L60.52 307.72 L61.98 305.54 L64.15 304.81 L65.6 304.81 L67.78 305.54 L69.22 307.72 L69.95 311.34 L69.95 313.52 L69.22 317.14 L67.78 319.31 L65.6 320.04 L64.15 320.04 L61.98 319.31 L60.52 317.14 L59.8 312.79 L59.8 312.06M75.03 319.31 L75.75 318.59 L76.47 319.31 L75.75 320.04 L75.03 319.31M82.28 308.44 L82.28 307.72 L83 306.27 L83.72 305.54 L85.17 304.81 L88.08 304.81 L89.53 305.54 L90.25 306.27 L90.97 307.72 L90.97 309.17 L88.8 312.79 L81.55 320.04 L91.7 320.04M40.95 363 L54 363M59.08 361.55 L59.8 357.2 L61.25 355.03 L63.43 354.3 L64.88 354.3 L67.05 355.03 L68.5 357.2 L69.23 360.83 L69.23 363 L68.5 366.63 L67.05 368.8 L64.88 369.53 L63.43 369.53 L61.25 368.8 L59.8 366.63 L59.08 362.28 L59.08 361.55M74.3 368.8 L75.03 368.08 L75.75 368.8 L75.03 369.53 L74.3 368.8M88.08 364.45 L80.83 364.45 L88.08 354.3 L88.08 364.45M88.08 364.45 L88.08 369.53M88.08 364.45 L91.7 364.45" stroke="#3a3a3a" stroke-width="1.02" fill="none" stroke-linecap="round" stroke-linejoin="round"/>
<path d="M61.98 388.57 L63.43 387.85 L64.88 386.4M64.88 386.4 L65.6 385.67 L65.6 400.9M64.88 386.4 L64.88 400.9M61.98 400.9 L64.88 400.9M64.88 400.9 L65.6 400.9M65.6 400.9 L68.5 400.9M75.03 400.17 L75.75 399.45 L76.47 400.17 L75.75 400.9 L75.03 400.17M85.9 385.67 L83.72 386.4 L82.28 388.57 L81.55 392.92 L81.55 393.65 L82.28 398 L83.72 400.17 L85.9 400.9M85.9 385.67 L84.45 386.4 L83.72 387.12 L83 388.57 L82.28 392.92 L82.28 393.65 L83 398 L83.72 399.45 L84.45 400.17 L85.9 400.9M85.9 385.67 L87.35 385.67M85.9 400.9 L87.35 400.9M87.35 385.67 L89.53 386.4 L90.97 388.57 L91.7 392.2 L91.7 394.38 L90.97 398 L89.53 400.17 L87.35 400.9M87.35 385.67 L88.8 386.4 L89.53 387.12 L90.25 388.57 L90.97 392.2 L90.97 394.38 L90.25 398 L89.53 399.45 L88.8 400.17 L87.35 400.9M64.15 428.79 L61.98 429.52 L60.53 431.69 L59.8 436.04 L59.8 436.77 L60.53 441.12 L61.98 443.29 L64.15 444.02M64.15 428.79 L62.7 429.52 L61.98 430.24 L61.25 431.69 L60.53 436.04 L60.53 436.77 L61.25 441.12 L61.98 442.57 L62.7 443.29 L64.15 444.02M64.15 428.79 L65.6 428.79M64.15 444.02 L65.6 444.02M65.6 428.79 L67.78 429.52 L69.23 431.69 L69.95 435.32 L69.95 437.49 L69.23 441.12 L67.78 443.29 L65.6 444.02M65.6 428.79 L67.05 429.52 L67.78 430.24 L68.5 431.69 L69.23 435.32 L69.23 437.49 L68.5 441.12 L67.78 442.57 L67.05 443.29 L65.6 444.02M75.03 443.29 L75.75 442.57 L76.47 443.29 L75.75 444.02 L75.03 443.29M85.17 428.79 L83 429.52 L82.28 430.97 L82.28 433.14 L83 434.59 L85.17 435.32M85.17 428.79 L83.72 429.52 L83 430.97 L83 433.14 L83.72 434.59 L85.17 435.32M85.17 428.79 L88.08 428.79M85.17 435.32 L83 436.04 L82.28 436.77 L81.55 438.22 L81.55 441.12 L82.28 442.57 L83 443.29 L85.17 444.02M85.17 435.32 L83.72 436.04 L83 436.77 L82.28 438.22 L82.28 441.12 L83 442.57 L83.72 443.29 L85.17 444.02M85.17 435.32 L88.08 435.32M85.17 444.02 L88.08 444.02M88.08 428.79 L90.25 429.52 L90.97 430.97 L90.97 433.14 L90.25 434.59 L88.08 435.32M88.08 428.79 L89.53 429.52 L90.25 430.97 L90.25 433.14 L89.53 434.59 L88.08 435.32M88.08 435.32 L90.25 436.04 L90.97 436.77 L91.7 438.22 L91.7 441.12 L90.97 442.57 L90.25 443.29 L88.08 444.02M88.08 435.32 L89.53 436.04 L90.25 436.77 L90.97 438.22 L90.97 441.12 L90.25 442.57 L89.53 443.29 L88.08 444.02M64.15 478.26 L61.98 478.98 L60.53 481.16 L59.8 485.51 L59.8 486.23 L60.53 490.58 L61.98 492.76 L64.15 493.48M64.15 478.26 L62.7 478.98 L61.98 479.71 L61.25 481.16 L60.53 485.51 L60.53 486.23 L61.25 490.58 L61.98 492.03 L62.7 492.76 L64.15 493.48M64.15 478.26 L65.6 478.26M64.15 493.48 L65.6 493.48M65.6 478.26 L67.78 478.98 L69.23 481.16 L69.95 484.78 L69.95 486.96 L69.23 490.58 L67.78 492.76 L65.6 493.48M65.6 478.26 L67.05 478.98 L67.78 479.71 L68.5 481.16 L69.23 484.78 L69.23 486.96 L68.5 490.58 L67.78 492.03 L67.05 492.76 L65.6 493.48M75.03 492.76 L75.75 492.03 L76.47 492.76 L75.75 493.48 L75.03 492.76M85.9 493.48 L83.72 492.76 L82.28 491.31 L81.55 489.13 L81.55 484.78 L82.28 481.88 L83 480.43 L84.45 478.98 L86.62 478.26M85.9 493.48 L84.45 492.76 L83 491.31 L82.28 489.13 L82.28 488.41 L83 486.23 L84.45 484.78 L86.62 484.06 L87.35 484.06M85.9 493.48 L87.35 493.48M86.62 478.26 L85.17 478.98 L83.72 480.43 L83 481.88 L82.28 484.78 L82.28 487.68M86.62 478.26 L88.8 478.26 L90.25 478.98 L90.97 480.43 L90.97 481.16 L90.25 481.88 L89.53 481.16 L90.25 480.43M87.35 484.06 L89.53 484.78 L90.97 486.23 L91.7 488.41 L91.7 489.13 L90.97 491.31 L89.53 492.76 L87.35 493.48M87.35 484.06 L88.8 484.78 L90.25 486.23 L90.97 488.41 L90.97 489.13 L90.25 491.31 L88.8 492.76 L87.35 493.48M63.43 527.72 L61.25 528.45 L59.8 530.62 L59.08 534.97 L59.08 535.7 L59.8 540.05 L61.25 542.22 L63.43 542.95M63.43 527.72 L61.98 528.45 L61.25 529.17 L60.53 530.62 L59.8 534.97 L59.8 535.7 L60.53 540.05 L61.25 541.5 L61.98 542.22 L63.43 542.95M63.43 527.72 L64.88 527.72M63.43 542.95 L64.88 542.95M64.88 527.72 L67.05 528.45 L68.5 530.62 L69.23 534.25 L69.23 536.42 L68.5 540.05 L67.05 542.22 L64.88 542.95M64.88 527.72 L66.33 528.45 L67.05 529.17 L67.78 530.62 L68.5 534.25 L68.5 536.42 L67.78 540.05 L67.05 541.5 L66.33 542.22 L64.88 542.95M74.3 542.22 L75.03 541.5 L75.75 542.22 L75.03 542.95 L74.3 542.22M85.18 542.95 L87.35 542.95M87.35 538.6 L80.1 538.6 L88.08 527.72 L88.08 538.6M87.35 538.6 L87.35 529.17M87.35 538.6 L87.35 542.95M87.35 538.6 L88.08 538.6M87.35 542.95 L88.08 542.95M88.08 538.6 L88.08 542.95M88.08 538.6 L91.7 538.6M88.08 542.95 L90.25 542.95M64.15 577.19 L61.98 577.91 L60.53 580.09 L59.8 584.44 L59.8 585.16 L60.53 589.51 L61.98 591.69 L64.15 592.41M64.15 577.19 L62.7 577.91 L61.98 578.64 L61.25 580.09 L60.53 584.44 L60.53 585.16 L61.25 589.51 L61.98 590.96 L62.7 591.69 L64.15 592.41M64.15 577.19 L65.6 577.19M64.15 592.41 L65.6 592.41M65.6 577.19 L67.78 577.91 L69.23 580.09 L69.95 583.71 L69.95 585.89 L69.23 589.51 L67.78 591.69 L65.6 592.41M65.6 577.19 L67.05 577.91 L67.78 578.64 L68.5 580.09 L69.23 583.71 L69.23 585.89 L68.5 589.51 L67.78 590.96 L67.05 591.69 L65.6 592.41M75.03 591.69 L75.75 590.96 L76.47 591.69 L75.75 592.41 L75.03 591.69M83.72 590.24 L87.35 592.41 L90.25 592.41 L90.97 591.69 L91.7 590.24M83.72 590.24 L87.35 591.69 L89.53 591.69 L90.97 590.96 L91.7 590.24M83.72 590.24 L82.28 590.24 L81.55 590.96M86.62 585.16 L90.25 582.99 L90.97 581.54 L90.97 580.09 L90.25 578.64 L89.53 577.91 L88.08 577.19M88.08 577.19 L90.25 577.91 L90.97 578.64 L91.7 580.09 L91.7 581.54 L90.97 582.99 L88.8 584.44 L83.72 586.61 L82.28 588.06 L81.55 590.24 L81.55 590.96M88.08 577.19 L85.17 577.19 L83 577.91 L82.28 578.64 L81.55 580.09 L81.55 580.81 L82.28 581.54 L83 580.81 L82.28 580.09M91.7 590.24 L91.7 588.79M81.55 590.96 L81.55 592.41M64.15 626.66 L61.98 627.38 L60.53 629.56 L59.8 633.91 L59.8 634.63 L60.53 638.98 L61.98 641.16 L64.15 641.88M64.15 626.66 L62.7 627.38 L61.98 628.11 L61.25 629.56 L60.53 633.91 L60.53 634.63 L61.25 638.98 L61.98 640.43 L62.7 641.16 L64.15 641.88M64.15 626.66 L65.6 626.66M64.15 641.88 L65.6 641.88M65.6 626.66 L67.78 627.38 L69.23 629.56 L69.95 633.18 L69.95 635.36 L69.23 638.98 L67.78 641.16 L65.6 641.88M65.6 626.66 L67.05 627.38 L67.78 628.11 L68.5 629.56 L69.23 633.18 L69.23 635.36 L68.5 638.98 L67.78 640.43 L67.05 641.16 L65.6 641.88M75.03 641.16 L75.75 640.43 L76.47 641.16 L75.75 641.88 L75.03 641.16M85.9 626.66 L83.72 627.38 L82.28 629.56 L81.55 633.91 L81.55 634.63 L82.28 638.98 L83.72 641.16 L85.9 641.88M85.9 626.66 L84.45 627.38 L83.72 628.11 L83 629.56 L82.28 633.91 L82.28 634.63 L83 638.98 L83.72 640.43 L84.45 641.16 L85.9 641.88M85.9 626.66 L87.35 626.66M85.9 641.88 L87.35 641.88M87.35 626.66 L89.53 627.38 L90.97 629.56 L91.7 633.18 L91.7 635.36 L90.97 638.98 L89.53 641.16 L87.35 641.88M87.35 626.66 L88.8 627.38 L89.53 628.11 L90.25 629.56 L90.97 633.18 L90.97 635.36 L90.25 638.98 L89.53 640.43 L88.8 641.16 L87.35 641.88M41.68 684.82 L54.73 684.82M64.15 676.12 L61.98 676.85 L60.52 679.02 L59.8 683.37 L59.8 684.1 L60.52 688.45 L61.98 690.62 L64.15 691.35M64.15 676.12 L62.7 676.85 L61.98 677.57 L61.25 679.02 L60.52 683.37 L60.52 684.1 L61.25 688.45 L61.98 689.9 L62.7 690.62 L64.15 691.35M64.15 676.12 L65.6 676.12M64.15 691.35 L65.6 691.35M65.6 676.12 L67.78 676.85 L69.22 679.02 L69.95 682.65 L69.95 684.82 L69.22 688.45 L67.78 690.62 L65.6 691.35M65.6 676.12 L67.05 676.85 L67.78 677.57 L68.5 679.02 L69.22 682.65 L69.22 684.82 L68.5 688.45 L67.78 689.9 L67.05 690.62 L65.6 691.35M75.03 690.62 L75.75 689.9 L76.47 690.62 L75.75 691.35 L75.03 690.62M83.72 689.17 L87.35 691.35 L90.25 691.35 L90.97 690.62 L91.7 689.17M83.72 689.17 L87.35 690.62 L89.53 690.62 L90.97 689.9 L91.7 689.17M83.72 689.17 L82.28 689.17 L81.55 689.9M86.62 684.1 L90.25 681.92 L90.97 680.47 L90.97 679.02 L90.25 677.57 L89.53 676.85 L88.08 676.12M88.08 676.12 L90.25 676.85 L90.97 677.57 L91.7 679.02 L91.7 680.47 L90.97 681.92 L88.8 683.37 L83.72 685.55 L82.28 687 L81.55 689.17 L81.55 689.9M88.08 676.12 L85.17 676.12 L83 676.85 L82.28 677.57 L81.55 679.02 L81.55 679.75 L82.28 680.47 L83 679.75 L82.28 679.02M91.7 689.17 L91.7 687.72M81.55 689.9 L81.55 691.35M40.95 734.29 L54 734.29M63.43 725.59 L61.25 726.31 L59.8 728.49 L59.08 732.84 L59.08 733.56 L59.8 737.91 L61.25 740.09 L63.43 740.81M63.43 725.59 L61.98 726.31 L61.25 727.04 L60.53 728.49 L59.8 732.84 L59.8 733.56 L60.53 737.91 L61.25 739.36 L61.98 740.09 L63.43 740.81M63.43 725.59 L64.88 725.59M63.43 740.81 L64.88 740.81M64.88 725.59 L67.05 726.31 L68.5 728.49 L69.23 732.11 L69.23 734.29 L68.5 737.91 L67.05 740.09 L64.88 740.81M64.88 725.59 L66.33 726.31 L67.05 727.04 L67.78 728.49 L68.5 732.11 L68.5 734.29 L67.78 737.91 L67.05 739.36 L66.33 740.09 L64.88 740.81M74.3 740.09 L75.03 739.36 L75.75 740.09 L75.03 740.81 L74.3 740.09M85.18 740.81 L87.35 740.81M87.35 736.46 L80.1 736.46 L88.08 725.59 L88.08 736.46M87.35 736.46 L87.35 727.04M87.35 736.46 L87.35 740.81M87.35 736.46 L88.08 736.46M87.35 740.81 L88.08 740.81M88.08 736.46 L88.08 740.81M88.08 736.46 L91.7 736.46M88.08 740.81 L90.25 740.81M89.4 774.57 L87.22 775.3 L85.78 777.47 L85.05 781.82 L85.05 782.55 L85.78 786.9 L87.22 789.07 L89.4 789.8M89.4 774.57 L87.95 775.3 L87.22 776.02 L86.5 777.47 L85.78 781.82 L85.78 782.55 L86.5 786.9 L87.22 788.35 L87.95 789.07 L89.4 789.8M89.4 774.57 L90.85 774.57M89.4 789.8 L90.85 789.8M90.85 774.57 L93.03 775.3 L94.47 777.47 L95.2 781.1 L95.2 783.27 L94.47 786.9 L93.03 789.07 L90.85 789.8M90.85 774.57 L92.3 775.3 L93.03 776.02 L93.75 777.47 L94.47 781.1 L94.47 783.27 L93.75 786.9 L93.03 788.35 L92.3 789.07 L90.85 789.8M100.28 789.07 L101 788.35 L101.72 789.07 L101 789.8 L100.28 789.07M111.15 774.57 L108.97 775.3 L107.53 777.47 L106.8 781.82 L106.8 782.55 L107.53 786.9 L108.97 789.07 L111.15 789.8M111.15 774.57 L109.7 775.3 L108.97 776.02 L108.25 777.47 L107.53 781.82 L107.53 782.55 L108.25 786.9 L108.97 788.35 L109.7 789.07 L111.15 789.8M111.15 774.57 L112.6 774.57M111.15 789.8 L112.6 789.8M112.6 774.57 L114.78 775.3 L116.22 777.47 L116.95 781.1 L116.95 783.27 L116.22 786.9 L114.78 789.07 L112.6 789.8M112.6 774.57 L114.05 775.3 L114.78 776.02 L115.5 777.47 L116.22 781.1 L116.22 783.27 L115.5 786.9 L114.78 788.35 L114.05 789.07 L112.6 789.8M202.22 774.57 L200.04 775.3 L198.59 777.47 L197.87 781.82 L197.87 782.55 L198.59 786.9 L200.04 789.07 L202.22 789.8M202.22 774.57 L200.77 775.3 L200.04 776.02 L199.32 777.47 L198.59 781.82 L198.59 782.55 L199.32 786.9 L200.04 788.35 L200.77 789.07 L202.22 789.8M202.22 774.57 L203.67 774.57M202.22 789.8 L203.67 789.8M203.67 774.57 L205.84 775.3 L207.29 777.47 L208.02 781.1 L208.02 783.27 L207.29 786.9 L205.84 789.07 L203.67 789.8M203.67 774.57 L205.12 775.3 L205.84 776.02 L206.57 777.47 L207.29 781.1 L207.29 783.27 L206.57 786.9 L205.84 788.35 L205.12 789.07 L203.67 789.8M213.09 789.07 L213.82 788.35 L214.54 789.07 L213.82 789.8 L213.09 789.07M221.79 787.62 L225.42 789.8 L228.32 789.8 L229.04 789.07 L229.77 787.62M221.79 787.62 L225.42 789.07 L227.59 789.07 L229.04 788.35 L229.77 787.62M221.79 787.62 L220.34 787.62 L219.62 788.35M224.69 782.55 L228.32 780.38 L229.04 778.92 L229.04 777.47 L228.32 776.02 L227.59 775.3 L226.14 774.57M226.14 774.57 L228.32 775.3 L229.04 776.02 L229.77 777.47 L229.77 778.92 L229.04 780.38 L226.87 781.82 L221.79 784 L220.34 785.45 L219.62 787.62 L219.62 788.35M226.14 774.57 L223.25 774.57 L221.07 775.3 L220.34 776.02 L219.62 777.47 L219.62 778.2 L220.34 778.92 L221.07 778.2 L220.34 777.47M229.77 787.62 L229.77 786.17M219.62 788.35 L219.62 789.8M314.68 774.57 L312.5 775.3 L311.05 777.47 L310.33 781.82 L310.33 782.55 L311.05 786.9 L312.5 789.07 L314.68 789.8M314.68 774.57 L313.23 775.3 L312.5 776.02 L311.78 777.47 L311.05 781.82 L311.05 782.55 L311.78 786.9 L312.5 788.35 L313.23 789.07 L314.68 789.8M314.68 774.57 L316.13 774.57M314.68 789.8 L316.13 789.8M316.13 774.57 L318.3 775.3 L319.75 777.47 L320.48 781.1 L320.48 783.27 L319.75 786.9 L318.3 789.07 L316.13 789.8M316.13 774.57 L317.58 775.3 L318.3 776.02 L319.03 777.47 L319.75 781.1 L319.75 783.27 L319.03 786.9 L318.3 788.35 L317.58 789.07 L316.13 789.8M325.55 789.07 L326.28 788.35 L327 789.07 L326.28 789.8 L325.55 789.07M336.43 789.8 L338.6 789.8M338.6 785.45 L331.35 785.45 L339.33 774.57 L339.33 785.45M338.6 785.45 L338.6 776.02M338.6 785.45 L338.6 789.8M338.6 785.45 L339.33 785.45M338.6 789.8 L339.33 789.8M339.33 785.45 L339.33 789.8M339.33 785.45 L342.95 785.45M339.33 789.8 L341.5 789.8M427.86 774.57 L425.69 775.3 L424.23 777.47 L423.51 781.82 L423.51 782.55 L424.23 786.9 L425.69 789.07 L427.86 789.8M427.86 774.57 L426.41 775.3 L425.69 776.02 L424.96 777.47 L424.23 781.82 L424.23 782.55 L424.96 786.9 L425.69 788.35 L426.41 789.07 L427.86 789.8M427.86 774.57 L429.31 774.57M427.86 789.8 L429.31 789.8M429.31 774.57 L431.48 775.3 L432.94 777.47 L433.66 781.1 L433.66 783.27 L432.94 786.9 L431.48 789.07 L429.31 789.8M429.31 774.57 L430.76 775.3 L431.48 776.02 L432.21 777.47 L432.94 781.1 L432.94 783.27 L432.21 786.9 L431.48 788.35 L430.76 789.07 L429.31 789.8M438.73 789.07 L439.46 788.35 L440.19 789.07 L439.46 789.8 L438.73 789.07M449.61 789.8 L447.44 789.07 L445.98 787.62 L445.26 785.45 L445.26 781.1 L445.98 778.2 L446.71 776.75 L448.16 775.3 L450.33 774.57M449.61 789.8 L448.16 789.07 L446.71 787.62 L445.98 785.45 L445.98 784.72 L446.71 782.55 L448.16 781.1 L450.33 780.38 L451.06 780.38M449.61 789.8 L451.06 789.8M450.33 774.57 L448.88 775.3 L447.44 776.75 L446.71 778.2 L445.98 781.1 L445.98 784M450.33 774.57 L452.51 774.57 L453.96 775.3 L454.69 776.75 L454.69 777.47 L453.96 778.2 L453.23 777.47 L453.96 776.75M451.06 780.38 L453.23 781.1 L454.69 782.55 L455.41 784.72 L455.41 785.45 L454.69 787.62 L453.23 789.07 L451.06 789.8M451.06 780.38 L452.51 781.1 L453.96 782.55 L454.69 784.72 L454.69 785.45 L453.96 787.62 L452.51 789.07 L451.06 789.8M540.68 774.57 L538.5 775.3 L537.05 777.47 L536.33 781.82 L536.33 782.55 L537.05 786.9 L538.5 789.07 L540.68 789.8M540.68 774.57 L539.23 775.3 L538.5 776.02 L537.78 777.47 L537.05 781.82 L537.05 782.55 L537.78 786.9 L538.5 788.35 L539.23 789.07 L540.68 789.8M540.68 774.57 L542.13 774.57M540.68 789.8 L542.13 789.8M542.13 774.57 L544.3 775.3 L545.75 777.47 L546.48 781.1 L546.48 783.27 L545.75 786.9 L544.3 789.07 L542.13 789.8M542.13 774.57 L543.58 775.3 L544.3 776.02 L545.03 777.47 L545.75 781.1 L545.75 783.27 L545.03 786.9 L544.3 788.35 L543.58 789.07 L542.13 789.8M551.55 789.07 L552.28 788.35 L553 789.07 L552.28 789.8 L551.55 789.07M561.7 774.57 L559.53 775.3 L558.8 776.75 L558.8 778.92 L559.53 780.38 L561.7 781.1M561.7 774.57 L560.25 775.3 L559.53 776.75 L559.53 778.92 L560.25 780.38 L561.7 781.1M561.7 774.57 L564.61 774.57M561.7 781.1 L559.53 781.82 L558.8 782.55 L558.08 784 L558.08 786.9 L558.8 788.35 L559.53 789.07 L561.7 789.8M561.7 781.1 L560.25 781.82 L559.53 782.55 L558.8 784 L558.8 786.9 L559.53 788.35 L560.25 789.07 L561.7 789.8M561.7 781.1 L564.61 781.1M561.7 789.8 L564.61 789.8M564.61 774.57 L566.78 775.3 L567.5 776.75 L567.5 778.92 L566.78 780.38 L564.61 781.1M564.61 774.57 L566.05 775.3 L566.78 776.75 L566.78 778.92 L566.05 780.38 L564.61 781.1M564.61 781.1 L566.78 781.82 L567.5 782.55 L568.23 784 L568.23 786.9 L567.5 788.35 L566.78 789.07 L564.61 789.8M564.61 781.1 L566.05 781.82 L566.78 782.55 L567.5 784 L567.5 786.9 L566.78 788.35 L566.05 789.07 L564.61 789.8M650.24 777.47 L651.69 776.75 L653.14 775.3M653.14 775.3 L653.86 774.57 L653.86 789.8M653.14 775.3 L653.14 789.8M650.24 789.8 L653.14 789.8M653.14 789.8 L653.86 789.8M653.86 789.8 L656.76 789.8M663.29 789.07 L664.01 788.35 L664.74 789.07 L664.01 789.8 L663.29 789.07M674.16 774.57 L671.99 775.3 L670.54 777.47 L669.81 781.82 L669.81 782.55 L670.54 786.9 L671.99 789.07 L674.16 789.8M674.16 774.57 L672.71 775.3 L671.99 776.02 L671.26 777.47 L670.54 781.82 L670.54 782.55 L671.26 786.9 L671.99 788.35 L672.71 789.07 L674.16 789.8M674.16 774.57 L675.61 774.57M674.16 789.8 L675.61 789.8M675.61 774.57 L677.79 775.3 L679.24 777.47 L679.96 781.1 L679.96 783.27 L679.24 786.9 L677.79 789.07 L675.61 789.8M675.61 774.57 L677.06 775.3 L677.79 776.02 L678.51 777.47 L679.24 781.1 L679.24 783.27 L678.51 786.9 L677.79 788.35 L677.06 789.07 L675.61 789.8M763.06 777.47 L764.51 776.75 L765.96 775.3M765.96 775.3 L766.68 774.57 L766.68 789.8M765.96 775.3 L765.96 789.8M763.06 789.8 L765.96 789.8M765.96 789.8 L766.68 789.8M766.68 789.8 L769.58 789.8M776.11 789.07 L776.83 788.35 L777.56 789.07 L776.83 789.8 L776.11 789.07M784.81 787.62 L788.43 789.8 L791.33 789.8 L792.06 789.07 L792.78 787.62M784.81 787.62 L788.43 789.07 L790.61 789.07 L792.06 788.35 L792.78 787.62M784.81 787.62 L783.36 787.62 L782.63 788.35M787.71 782.55 L791.33 780.38 L792.06 778.92 L792.06 777.47 L791.33 776.02 L790.61 775.3 L789.16 774.57M789.16 774.57 L791.33 775.3 L792.06 776.02 L792.78 777.47 L792.78 778.92 L792.06 780.38 L789.88 781.82 L784.81 784 L783.36 785.45 L782.63 787.62 L782.63 788.35M789.16 774.57 L786.26 774.57 L784.08 775.3 L783.36 776.02 L782.63 777.47 L782.63 778.2 L783.36 778.92 L784.08 778.2 L783.36 777.47M792.78 787.62 L792.78 786.17M782.63 788.35 L782.63 789.8M420.9 808.78 L420.18 809.5 L420.9 810.23 L421.62 809.5 L421.62 808.78 L420.9 808.05 L418.73 808.05 L417.27 808.78 L415.82 810.23 L415.1 812.4 L415.1 818.2M412.2 808.05 L414.38 808.05M412.2 818.2 L414.38 818.2M414.38 808.05 L414.38 818.2M414.38 808.05 L415.1 808.05 L415.1 811.68M414.38 818.2 L415.1 818.2M415.1 818.2 L417.27 818.2M427.43 818.2 L437.57 800.08M424.52 823.28 L433.95 806.6M449.17 808.78 L448.45 809.5 L449.17 810.23 L449.9 809.5 L449.9 808.78 L449.17 808.05 L447 808.05 L445.55 808.78 L444.1 810.23 L443.38 812.4 L443.38 818.2M440.47 808.05 L442.65 808.05M440.47 818.2 L442.65 818.2M442.65 808.05 L442.65 818.2M442.65 808.05 L443.38 808.05 L443.38 811.68M442.65 818.2 L443.38 818.2M443.38 818.2 L445.55 818.2M452.78 822.32 L455.08 823.7 L456.92 823.7 L457.38 823.24 L457.84 822.32M452.78 822.32 L455.08 823.24 L456.46 823.24 L457.38 822.78 L457.84 822.32M452.78 822.32 L451.86 822.32 L451.4 822.78M454.62 819.1 L456.92 817.72 L457.38 816.8 L457.38 815.88 L456.92 814.96 L456.46 814.5 L455.54 814.04M455.54 814.04 L456.92 814.5 L457.38 814.96 L457.84 815.88 L457.84 816.8 L457.38 817.72 L456 818.64 L452.78 820.02 L451.86 820.94 L451.4 822.32 L451.4 822.78M455.54 814.04 L453.7 814.04 L452.32 814.5 L451.86 814.96 L451.4 815.88 L451.4 816.34 L451.86 816.8 L452.32 816.34 L451.86 815.88M457.84 822.32 L457.84 821.4M451.4 822.78 L451.4 823.7M463.36 814.04 L461.98 814.5 L461.06 815.88 L460.6 818.64 L460.6 819.1 L461.06 821.86 L461.98 823.24 L463.36 823.7M463.36 814.04 L462.44 814.5 L461.98 814.96 L461.52 815.88 L461.06 818.64 L461.06 819.1 L461.52 821.86 L461.98 822.78 L462.44 823.24 L463.36 823.7M463.36 814.04 L464.28 814.04M463.36 823.7 L464.28 823.7M464.28 814.04 L465.66 814.5 L466.58 815.88 L467.04 818.18 L467.04 819.56 L466.58 821.86 L465.66 823.24 L464.28 823.7M464.28 814.04 L465.2 814.5 L465.66 814.96 L466.12 815.88 L466.58 818.18 L466.58 819.56 L466.12 821.86 L465.66 822.78 L465.2 823.24 L464.28 823.7M472.56 814.04 L471.18 814.5 L470.26 815.88 L469.8 818.64 L469.8 819.1 L470.26 821.86 L471.18 823.24 L472.56 823.7M472.56 814.04 L471.64 814.5 L471.18 814.96 L470.72 815.88 L470.26 818.64 L470.26 819.1 L470.72 821.86 L471.18 822.78 L471.64 823.24 L472.56 823.7M472.56 814.04 L473.48 814.04M472.56 823.7 L473.48 823.7M473.48 814.04 L474.86 814.5 L475.78 815.88 L476.24 818.18 L476.24 819.56 L475.78 821.86 L474.86 823.24 L473.48 823.7M473.48 814.04 L474.4 814.5 L474.86 814.96 L475.32 815.88 L475.78 818.18 L475.78 819.56 L475.32 821.86 L474.86 822.78 L474.4 823.24 L473.48 823.7M479.92 823.7 L479.46 823.24 L479.92 822.78 L480.38 823.24 L480.38 824.16 L479.92 825.08 L479.46 825.54M486.36 817.26 L484.98 817.72 L484.06 818.64 L483.6 820.02 L483.6 820.94 L484.06 822.32 L484.98 823.24 L486.36 823.7M486.36 817.26 L485.44 817.72 L484.52 818.64 L484.06 820.02 L484.06 820.94 L484.52 822.32 L485.44 823.24 L486.36 823.7M486.36 817.26 L487.74 817.26 L488.66 817.72 L489.58 818.64 L489.58 819.1 L489.12 819.56 L488.66 819.1 L489.12 818.64M486.36 823.7 L487.28 823.7 L488.66 823.24 L489.58 822.32M497.4 817.72 L496.94 818.18 L497.4 818.64 L497.86 818.18 L497.86 817.72 L497.4 817.26 L496.02 817.26 L495.1 817.72 L494.18 818.64 L493.72 820.02 L493.72 823.7M491.88 817.26 L493.26 817.26M491.88 823.7 L493.26 823.7M493.26 817.26 L493.26 823.7M493.26 817.26 L493.72 817.26 L493.72 819.56M493.26 823.7 L493.72 823.7M493.72 823.7 L495.1 823.7M499.7 817.26 L501.08 817.26M499.7 823.7 L501.08 823.7M501.08 817.26 L501.08 823.7M501.08 817.26 L501.54 817.26 L501.54 823.7M501.08 823.7 L501.54 823.7M501.54 823.7 L502.92 823.7M500.62 814.5 L501.08 814.04 L501.54 814.5 L501.08 814.96 L500.62 814.5M507.52 823.7 L506.6 823.24 L506.14 821.86 L506.14 817.26M507.52 823.7 L507.06 823.24 L506.6 821.86 L506.6 817.26M507.52 823.7 L508.44 823.7 L509.36 823.24 L509.82 822.32M504.76 817.26 L506.14 817.26M506.14 817.26 L506.14 814.04M506.14 817.26 L506.6 817.26M506.6 817.26 L506.6 814.04M506.6 817.26 L508.44 817.26" stroke="#3a3a3a" stroke-width="1.02" fill="none" stroke-linecap="round" stroke-linejoin="round"/>
<path d="M24.1 206 L16.6 205 L11.6 204.3 L7.7 203.1 L5 201.4 L3.3 199.3 L3.1 196.95 L4.2 195.6 L6.2 195.2 L8.3 196.2 L9.4 197.7 L9.8 199.5 L9.4 200.6 L10.8 198.9 L12.3 197.4 L16.6 197.3 L17.7 198.3 L18.7 200 L18.5 202 L17 203.9 L15.4 204.7" stroke="#3c3c3c" stroke-width="0.98" fill="none" stroke-linecap="round" stroke-linejoin="round"/>
<path d="M24.1 577.35 L18.5 576.5 L13.1 575.9 L9.6 574.9 L6.2 573.4 L4 571.8 L3.1 569.9 L3.1 568.4 L4 567.1 L5.8 566.7 L7.7 567.2 L9.1 568.6 L9.6 570.1 L9.4 572.4 L10.4 570.3 L12.3 568.6 L14.5 568.2 L16.6 568.6 L18.1 569.9 L18.8 571.8 L18.5 573.6 L17.3 574.9 L15.4 576" stroke="#3c3c3c" stroke-width="0.98" fill="none" stroke-linecap="round" stroke-linejoin="round"/>
</svg>
</body></html>
